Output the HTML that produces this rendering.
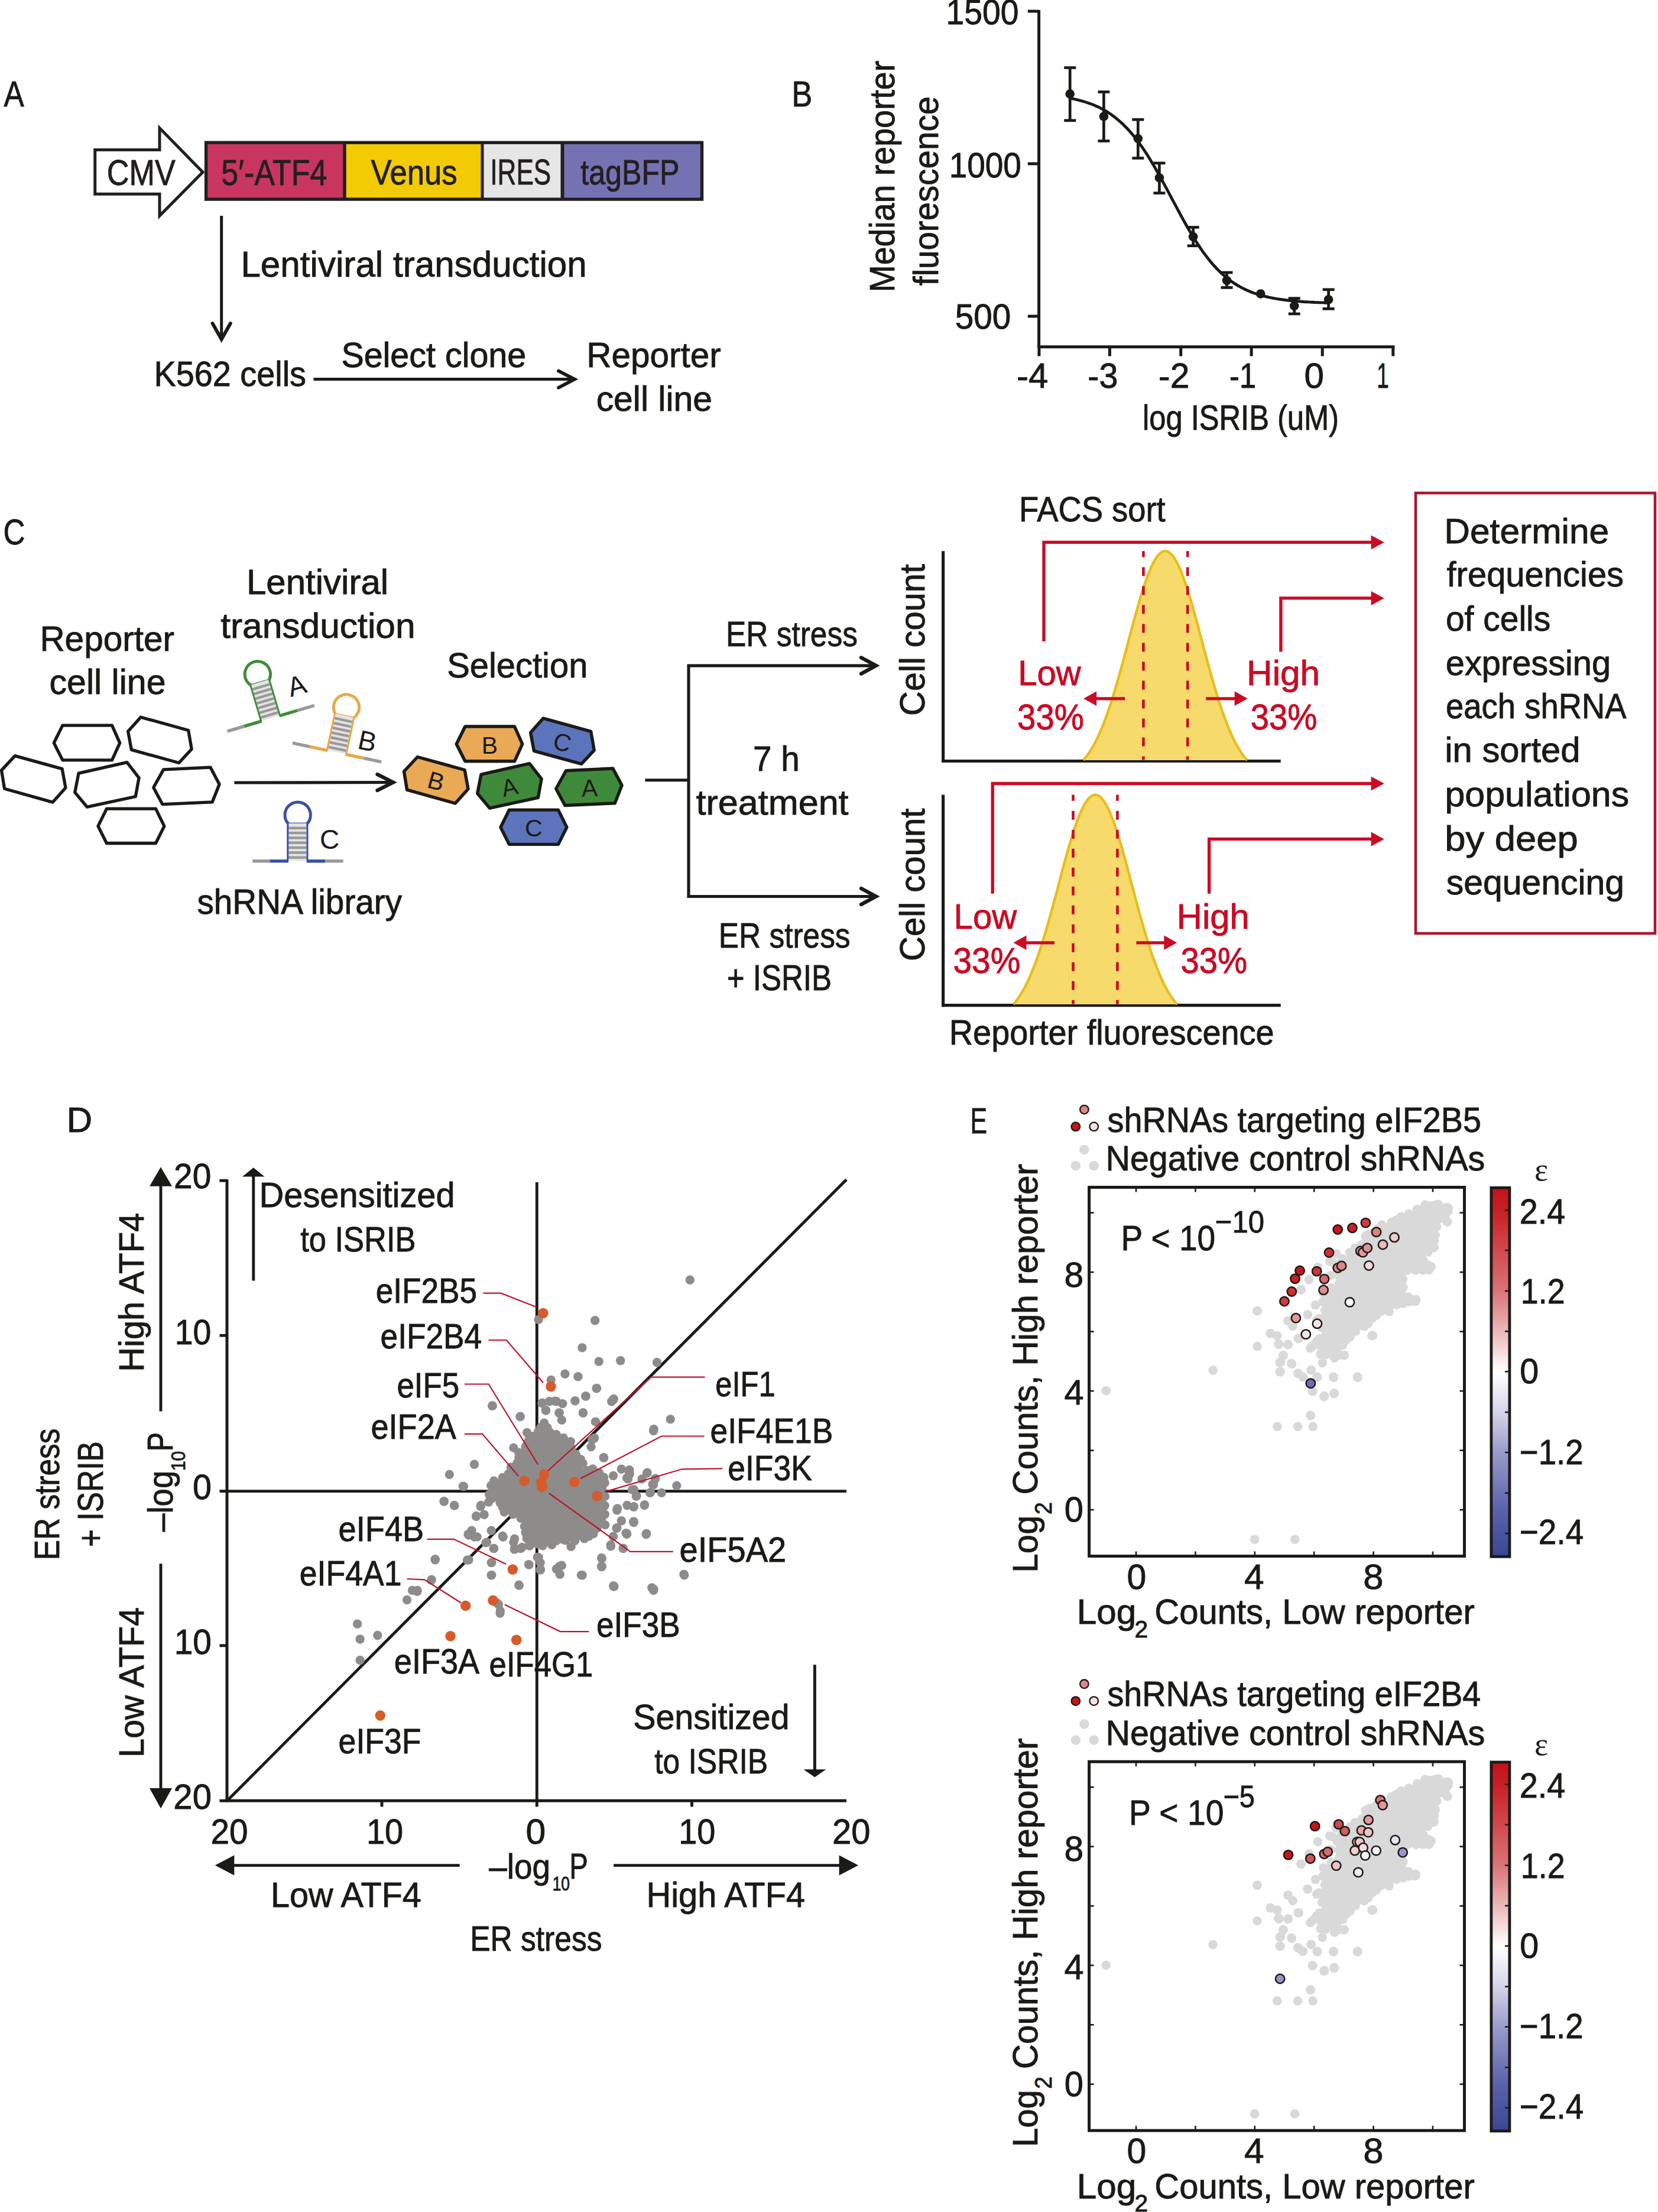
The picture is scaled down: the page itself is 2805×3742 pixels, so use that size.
<!DOCTYPE html>
<html><head><meta charset="utf-8"><style>
html,body{margin:0;padding:0;background:#fff;}
svg{display:block;}
text{font-family:"Liberation Sans", sans-serif;}
</style></head><body>
<svg width="2805" height="3742" viewBox="0 0 2805 3742">
<rect x="0" y="0" width="2805" height="3742" fill="#fff"/>
<text x="6.4" y="179.7" font-size="60.6" fill="#1b1a17" stroke="#1b1a17" stroke-width="0.9" textLength="34.2" lengthAdjust="spacingAndGlyphs" >A</text>
<polygon points="160.7,253.5 270.0,253.5 270.0,216.6 343.0,291.2 270.0,365.1 270.0,328.2 160.7,328.2" fill="#fff" stroke="#231f20" stroke-width="5" stroke-linejoin="miter" stroke-linecap="butt" />
<rect x="348.6" y="241.2" width="234.4" height="95.9" fill="#C8365F" stroke="none" stroke-width="0"/>
<rect x="583.0" y="241.2" width="233.0" height="95.9" fill="#F2CB05" stroke="none" stroke-width="0"/>
<rect x="816.0" y="241.2" width="135.0" height="95.9" fill="#E6E6E6" stroke="none" stroke-width="0"/>
<rect x="951.0" y="241.2" width="236.5" height="95.9" fill="#7572B3" stroke="none" stroke-width="0"/>
<rect x="348.6" y="241.2" width="838.9" height="95.9" fill="none" stroke="#231f20" stroke-width="5.4"/>
<line x1="583.0" y1="241.2" x2="583.0" y2="337.1" stroke="#231f20" stroke-width="5.5" stroke-linecap="butt" />
<line x1="816.0" y1="241.2" x2="816.0" y2="337.1" stroke="#231f20" stroke-width="5" stroke-linecap="butt" />
<line x1="951.5" y1="241.2" x2="951.5" y2="337.1" stroke="#231f20" stroke-width="6" stroke-linecap="butt" />
<text x="180.8" y="312.8" font-size="61" fill="#231f20" stroke="#231f20" stroke-width="0.9" textLength="116.0" lengthAdjust="spacingAndGlyphs" >CMV</text>
<text x="374.3" y="312.5" font-size="61" fill="#231f20" stroke="#231f20" stroke-width="0.9" textLength="179.2" lengthAdjust="spacingAndGlyphs" >5′-ATF4</text>
<text x="627.4" y="312.4" font-size="59.17" fill="#231f20" stroke="#231f20" stroke-width="0.9" textLength="146.2" lengthAdjust="spacingAndGlyphs" >Venus</text>
<text x="829.3" y="312.4" font-size="61" fill="#231f20" stroke="#231f20" stroke-width="0.9" textLength="102.9" lengthAdjust="spacingAndGlyphs" >IRES</text>
<text x="982.2" y="312.4" font-size="59.17" fill="#231f20" stroke="#231f20" stroke-width="0.9" textLength="167.4" lengthAdjust="spacingAndGlyphs" >tagBFP</text>
<line x1="374.7" y1="365.0" x2="374.7" y2="573.0" stroke="#1b1a17" stroke-width="5" stroke-linecap="butt" />
<polyline points="359.5,547.0 374.7,574.0 389.9,547.0" fill="none" stroke="#1b1a17" stroke-width="5.8" stroke-linejoin="miter" stroke-linecap="round" />
<text x="407.4" y="467.9" font-size="61.11" fill="#1b1a17" stroke="#1b1a17" stroke-width="0.9" textLength="585.4" lengthAdjust="spacingAndGlyphs" >Lentiviral transduction</text>
<text x="260.4" y="652.7" font-size="59.17" fill="#1b1a17" stroke="#1b1a17" stroke-width="0.9" textLength="257.6" lengthAdjust="spacingAndGlyphs" >K562 cells</text>
<text x="577.4" y="620.8" font-size="59.17" fill="#1b1a17" stroke="#1b1a17" stroke-width="0.9" textLength="312.8" lengthAdjust="spacingAndGlyphs" >Select clone</text>
<line x1="530.5" y1="641.6" x2="971.0" y2="641.6" stroke="#1b1a17" stroke-width="5" stroke-linecap="butt" />
<polyline points="945.0,627.5 972.0,641.6 945.0,655.7" fill="none" stroke="#1b1a17" stroke-width="5.8" stroke-linejoin="miter" stroke-linecap="round" />
<text x="992.3" y="620.5" font-size="59.17" fill="#1b1a17" stroke="#1b1a17" stroke-width="0.9" textLength="227.4" lengthAdjust="spacingAndGlyphs" >Reporter</text>
<text x="1008.7" y="695.2" font-size="59.17" fill="#1b1a17" stroke="#1b1a17" stroke-width="0.9" textLength="196.3" lengthAdjust="spacingAndGlyphs" >cell line</text>
<text x="1339.4" y="180.0" font-size="61" fill="#1b1a17" stroke="#1b1a17" stroke-width="0.9" textLength="34.8" lengthAdjust="spacingAndGlyphs" >B</text>
<line x1="1757.6" y1="17.0" x2="1757.6" y2="588.5" stroke="#1b1a17" stroke-width="5" stroke-linecap="butt" />
<line x1="1738.8" y1="19.0" x2="1757.6" y2="19.0" stroke="#1b1a17" stroke-width="5" stroke-linecap="butt" />
<line x1="1738.8" y1="277.0" x2="1757.6" y2="277.0" stroke="#1b1a17" stroke-width="5" stroke-linecap="butt" />
<line x1="1738.8" y1="535.0" x2="1757.6" y2="535.0" stroke="#1b1a17" stroke-width="5" stroke-linecap="butt" />
<text x="1600.4" y="40.7" font-size="60" fill="#1b1a17" stroke="#1b1a17" stroke-width="0.9" textLength="123.1" lengthAdjust="spacingAndGlyphs" >1500</text>
<text x="1605.8" y="300.2" font-size="60" fill="#1b1a17" stroke="#1b1a17" stroke-width="0.9" textLength="122.1" lengthAdjust="spacingAndGlyphs" >1000</text>
<text x="1615.8" y="556.3" font-size="60" fill="#1b1a17" stroke="#1b1a17" stroke-width="0.9" textLength="94.4" lengthAdjust="spacingAndGlyphs" >500</text>
<line x1="1755.5" y1="586.8" x2="2359.5" y2="586.8" stroke="#1b1a17" stroke-width="5" stroke-linecap="butt" />
<line x1="1757.9" y1="586.8" x2="1757.9" y2="602.5" stroke="#1b1a17" stroke-width="5" stroke-linecap="butt" />
<line x1="1877.4" y1="586.8" x2="1877.4" y2="602.5" stroke="#1b1a17" stroke-width="5" stroke-linecap="butt" />
<line x1="1997.7" y1="586.8" x2="1997.7" y2="602.5" stroke="#1b1a17" stroke-width="5" stroke-linecap="butt" />
<line x1="2117.1" y1="586.8" x2="2117.1" y2="602.5" stroke="#1b1a17" stroke-width="5" stroke-linecap="butt" />
<line x1="2237.2" y1="586.8" x2="2237.2" y2="602.5" stroke="#1b1a17" stroke-width="5" stroke-linecap="butt" />
<line x1="2356.8" y1="586.8" x2="2356.8" y2="602.5" stroke="#1b1a17" stroke-width="5" stroke-linecap="butt" />
<text x="1720.1" y="656.4" font-size="60" fill="#1b1a17" stroke="#1b1a17" stroke-width="0.9" textLength="53.3" lengthAdjust="spacingAndGlyphs" >-4</text>
<text x="1840.3" y="656.4" font-size="60" fill="#1b1a17" stroke="#1b1a17" stroke-width="0.9" textLength="51.1" lengthAdjust="spacingAndGlyphs" >-3</text>
<text x="1960.1" y="656.4" font-size="60" fill="#1b1a17" stroke="#1b1a17" stroke-width="0.9" textLength="52.3" lengthAdjust="spacingAndGlyphs" >-2</text>
<text x="2080.1" y="656.4" font-size="60" fill="#1b1a17" stroke="#1b1a17" stroke-width="0.9" textLength="44.9" lengthAdjust="spacingAndGlyphs" >-1</text>
<text x="2206.6" y="656.4" font-size="60" fill="#1b1a17" stroke="#1b1a17" stroke-width="0.9" textLength="33.4" lengthAdjust="spacingAndGlyphs" >0</text>
<text x="2329.2" y="656.4" font-size="60" fill="#1b1a17" stroke="#1b1a17" stroke-width="0.9" textLength="20.5" lengthAdjust="spacingAndGlyphs" >1</text>
<text x="1933.0" y="726.5" font-size="59.17" fill="#1b1a17" stroke="#1b1a17" stroke-width="0.9" textLength="332.1" lengthAdjust="spacingAndGlyphs" >log ISRIB (uM)</text>
<text x="-494.6" y="1512.8" font-size="60.14" fill="#1b1a17" stroke="#1b1a17" stroke-width="0.9" textLength="391.8" lengthAdjust="spacingAndGlyphs" transform="rotate(-90)" >Median reporter</text>
<text x="-483.3" y="1586.8" font-size="60.14" fill="#1b1a17" stroke="#1b1a17" stroke-width="0.9" textLength="320.4" lengthAdjust="spacingAndGlyphs" transform="rotate(-90)" >fluorescence</text>
<polyline points="1810.0,166.1 1813.7,166.8 1817.4,167.6 1821.1,168.4 1824.8,169.3 1828.5,170.3 1832.2,171.4 1835.9,172.5 1839.6,173.7 1843.3,175.0 1847.0,176.3 1850.7,177.8 1854.4,179.4 1858.1,181.1 1861.8,182.9 1865.5,184.9 1869.2,186.9 1872.9,189.2 1876.6,191.5 1880.3,194.0 1883.9,196.7 1887.6,199.5 1891.3,202.6 1895.0,205.8 1898.7,209.1 1902.4,212.7 1906.1,216.5 1909.8,220.5 1913.5,224.7 1917.2,229.0 1920.9,233.6 1924.6,238.5 1928.3,243.5 1932.0,248.7 1935.7,254.1 1939.4,259.7 1943.1,265.5 1946.8,271.5 1950.5,277.7 1954.2,284.0 1957.9,290.5 1961.6,297.1 1965.3,303.8 1969.0,310.6 1972.7,317.4 1976.4,324.4 1980.1,331.3 1983.8,338.3 1987.5,345.2 1991.2,352.2 1994.9,359.0 1998.6,365.9 2002.3,372.6 2006.0,379.2 2009.7,385.7 2013.4,392.0 2017.1,398.2 2020.8,404.2 2024.5,410.0 2028.2,415.7 2031.8,421.1 2035.5,426.4 2039.2,431.4 2042.9,436.3 2046.6,440.9 2050.3,445.3 2054.0,449.5 2057.7,453.5 2061.4,457.3 2065.1,460.9 2068.8,464.4 2072.5,467.6 2076.2,470.6 2079.9,473.5 2083.6,476.2 2087.3,478.7 2091.0,481.1 2094.7,483.4 2098.4,485.4 2102.1,487.4 2105.8,489.2 2109.5,491.0 2113.2,492.6 2116.9,494.1 2120.6,495.5 2124.3,496.8 2128.0,498.0 2131.7,499.1 2135.4,500.1 2139.1,501.1 2142.8,502.0 2146.5,502.9 2150.2,503.7 2153.9,504.4 2157.6,505.1 2161.3,505.7 2165.0,506.3 2168.7,506.8 2172.4,507.3 2176.1,507.8 2179.7,508.2 2183.4,508.6 2187.1,509.0 2190.8,509.3 2194.5,509.6 2198.2,509.9 2201.9,510.2 2205.6,510.5 2209.3,510.7 2213.0,510.9 2216.7,511.1 2220.4,511.3 2224.1,511.5 2227.8,511.6 2231.5,511.8 2235.2,511.9 2238.9,512.0 2242.6,512.2 2246.3,512.3 2250.0,512.4" fill="none" stroke="#1b1a17" stroke-width="4.9"/>
<line x1="1810.2" y1="114.5" x2="1810.2" y2="203.8" stroke="#1b1a17" stroke-width="4.7" stroke-linecap="butt" />
<line x1="1800.2" y1="114.5" x2="1820.2" y2="114.5" stroke="#1b1a17" stroke-width="4.7" stroke-linecap="butt" />
<line x1="1800.2" y1="203.8" x2="1820.2" y2="203.8" stroke="#1b1a17" stroke-width="4.7" stroke-linecap="butt" />
<circle cx="1810.2" cy="158.9" r="7.8" fill="#1b1a17" stroke="none" stroke-width="0"/>
<line x1="1867.4" y1="155.5" x2="1867.4" y2="238.5" stroke="#1b1a17" stroke-width="4.7" stroke-linecap="butt" />
<line x1="1857.4" y1="155.5" x2="1877.4" y2="155.5" stroke="#1b1a17" stroke-width="4.7" stroke-linecap="butt" />
<line x1="1857.4" y1="238.5" x2="1877.4" y2="238.5" stroke="#1b1a17" stroke-width="4.7" stroke-linecap="butt" />
<circle cx="1867.4" cy="197.0" r="7.8" fill="#1b1a17" stroke="none" stroke-width="0"/>
<line x1="1925.3" y1="202.3" x2="1925.3" y2="267.5" stroke="#1b1a17" stroke-width="4.7" stroke-linecap="butt" />
<line x1="1915.3" y1="202.3" x2="1935.3" y2="202.3" stroke="#1b1a17" stroke-width="4.7" stroke-linecap="butt" />
<line x1="1915.3" y1="267.5" x2="1935.3" y2="267.5" stroke="#1b1a17" stroke-width="4.7" stroke-linecap="butt" />
<circle cx="1925.3" cy="234.4" r="7.8" fill="#1b1a17" stroke="none" stroke-width="0"/>
<line x1="1961.4" y1="275.9" x2="1961.4" y2="326.6" stroke="#1b1a17" stroke-width="4.7" stroke-linecap="butt" />
<line x1="1951.4" y1="275.9" x2="1971.4" y2="275.9" stroke="#1b1a17" stroke-width="4.7" stroke-linecap="butt" />
<line x1="1951.4" y1="326.6" x2="1971.4" y2="326.6" stroke="#1b1a17" stroke-width="4.7" stroke-linecap="butt" />
<circle cx="1961.4" cy="300.7" r="7.8" fill="#1b1a17" stroke="none" stroke-width="0"/>
<line x1="2018.6" y1="384.5" x2="2018.6" y2="415.8" stroke="#1b1a17" stroke-width="4.7" stroke-linecap="butt" />
<line x1="2008.6" y1="384.5" x2="2028.6" y2="384.5" stroke="#1b1a17" stroke-width="4.7" stroke-linecap="butt" />
<line x1="2008.6" y1="415.8" x2="2028.6" y2="415.8" stroke="#1b1a17" stroke-width="4.7" stroke-linecap="butt" />
<circle cx="2018.6" cy="400.4" r="7.8" fill="#1b1a17" stroke="none" stroke-width="0"/>
<line x1="2075.5" y1="461.0" x2="2075.5" y2="486.5" stroke="#1b1a17" stroke-width="4.7" stroke-linecap="butt" />
<line x1="2065.5" y1="461.0" x2="2085.5" y2="461.0" stroke="#1b1a17" stroke-width="4.7" stroke-linecap="butt" />
<line x1="2065.5" y1="486.5" x2="2085.5" y2="486.5" stroke="#1b1a17" stroke-width="4.7" stroke-linecap="butt" />
<circle cx="2075.5" cy="474.5" r="7.8" fill="#1b1a17" stroke="none" stroke-width="0"/>
<circle cx="2132.7" cy="497.1" r="7.8" fill="#1b1a17" stroke="none" stroke-width="0"/>
<line x1="2189.7" y1="504.7" x2="2189.7" y2="530.9" stroke="#1b1a17" stroke-width="4.7" stroke-linecap="butt" />
<line x1="2179.7" y1="504.7" x2="2199.7" y2="504.7" stroke="#1b1a17" stroke-width="4.7" stroke-linecap="butt" />
<line x1="2179.7" y1="530.9" x2="2199.7" y2="530.9" stroke="#1b1a17" stroke-width="4.7" stroke-linecap="butt" />
<circle cx="2189.7" cy="517.4" r="7.8" fill="#1b1a17" stroke="none" stroke-width="0"/>
<line x1="2247.6" y1="489.9" x2="2247.6" y2="522.4" stroke="#1b1a17" stroke-width="4.7" stroke-linecap="butt" />
<line x1="2237.6" y1="489.9" x2="2257.6" y2="489.9" stroke="#1b1a17" stroke-width="4.7" stroke-linecap="butt" />
<line x1="2237.6" y1="522.4" x2="2257.6" y2="522.4" stroke="#1b1a17" stroke-width="4.7" stroke-linecap="butt" />
<circle cx="2247.6" cy="506.8" r="7.8" fill="#1b1a17" stroke="none" stroke-width="0"/>
<text x="5.5" y="920.5" font-size="61" fill="#1b1a17" stroke="#1b1a17" stroke-width="0.9" textLength="36.9" lengthAdjust="spacingAndGlyphs" >C</text>
<text x="67.4" y="1100.9" font-size="59.17" fill="#1b1a17" stroke="#1b1a17" stroke-width="0.9" textLength="227.5" lengthAdjust="spacingAndGlyphs" >Reporter</text>
<text x="83.6" y="1174.4" font-size="59.17" fill="#1b1a17" stroke="#1b1a17" stroke-width="0.9" textLength="196.9" lengthAdjust="spacingAndGlyphs" >cell line</text>
<polygon points="105.9,1227.1 189.5,1227.1 202.7,1256.8 189.5,1285.9 105.9,1285.9 91.2,1256.8" fill="none" stroke="#1b1a17" stroke-width="5.3" stroke-linejoin="round" stroke-linecap="butt" />
<polygon points="238.1,1213.2 318.7,1235.5 324.2,1267.2 302.7,1290.5 222.4,1268.4 216.6,1237.3" fill="none" stroke="#1b1a17" stroke-width="5.3" stroke-linejoin="round" stroke-linecap="butt" />
<polygon points="25.3,1278.6 105.1,1300.6 111.0,1332.8 89.2,1357.1 7.6,1334.3 2.5,1303.1" fill="none" stroke="#1b1a17" stroke-width="5.3" stroke-linejoin="round" stroke-linecap="butt" />
<polygon points="133.0,1308.2 214.8,1289.7 235.1,1315.8 229.3,1347.5 147.4,1365.2 126.7,1340.4" fill="none" stroke="#1b1a17" stroke-width="5.3" stroke-linejoin="round" stroke-linecap="butt" />
<polygon points="276.6,1301.9 355.9,1298.1 371.1,1326.7 359.2,1356.8 274.8,1360.6 259.7,1332.3" fill="none" stroke="#1b1a17" stroke-width="5.3" stroke-linejoin="round" stroke-linecap="butt" />
<polygon points="180.4,1368.2 263.5,1368.2 277.9,1397.6 263.5,1426.5 180.4,1426.5 165.9,1397.6" fill="none" stroke="#1b1a17" stroke-width="5.3" stroke-linejoin="round" stroke-linecap="butt" />
<line x1="396.4" y1="1324.0" x2="664.0" y2="1323.5" stroke="#1b1a17" stroke-width="5.2" stroke-linecap="butt" />
<polyline points="638.5,1310.0 665.0,1323.5 638.5,1337.0" fill="none" stroke="#1b1a17" stroke-width="6.3" stroke-linejoin="miter" stroke-linecap="round" />
<text x="417.0" y="1005.1" font-size="59.17" fill="#1b1a17" stroke="#1b1a17" stroke-width="0.9" textLength="240.1" lengthAdjust="spacingAndGlyphs" >Lentiviral</text>
<text x="373.2" y="1079.0" font-size="59.17" fill="#1b1a17" stroke="#1b1a17" stroke-width="0.9" textLength="329.4" lengthAdjust="spacingAndGlyphs" >transduction</text>
<text x="333.4" y="1546.3" font-size="59.17" fill="#1b1a17" stroke="#1b1a17" stroke-width="0.9" textLength="346.7" lengthAdjust="spacingAndGlyphs" >shRNA library</text>
<g transform="translate(457.7,1215.4) rotate(-16.5)"><circle cx="0.3" cy="-78" r="21.7" fill="#fff" stroke="#3F8C38" stroke-width="5"/><rect x="-15.2" y="-64.5" width="30.4" height="64" fill="#E4E4E4"/><rect x="-15.2" y="-58.1" width="30.4" height="4.4" fill="#9A9898"/><rect x="-15.2" y="-49.8" width="30.4" height="4.4" fill="#9A9898"/><rect x="-15.2" y="-41.5" width="30.4" height="4.4" fill="#9A9898"/><rect x="-15.2" y="-33.2" width="30.4" height="4.4" fill="#9A9898"/><rect x="-15.2" y="-24.9" width="30.4" height="4.4" fill="#9A9898"/><rect x="-15.2" y="-16.6" width="30.4" height="4.4" fill="#9A9898"/><rect x="-15.2" y="-8.3" width="30.4" height="4.4" fill="#9A9898"/><line x1="-16.6" y1="-64.6" x2="-16.6" y2="0" stroke="#3F8C38" stroke-width="3"/><line x1="16.6" y1="-64.6" x2="16.6" y2="0" stroke="#3F8C38" stroke-width="3"/><line x1="-15.2" y1="-64.5" x2="15.2" y2="-64.5" stroke="#3F8C38" stroke-width="1.2"/><line x1="-76.3" y1="0" x2="-46.4" y2="0" stroke="#9A9898" stroke-width="5.4"/><line x1="-46.4" y1="0" x2="-15.5" y2="0" stroke="#3F8C38" stroke-width="5.4"/><line x1="15.5" y1="0" x2="47.1" y2="0" stroke="#3F8C38" stroke-width="5.4"/><line x1="47.1" y1="0" x2="77.2" y2="0" stroke="#9A9898" stroke-width="5.4"/></g>
<g transform="translate(569.5,1272.8) rotate(12)"><circle cx="0.3" cy="-78" r="21.7" fill="#fff" stroke="#E8A84C" stroke-width="5"/><rect x="-15.2" y="-64.5" width="30.4" height="64" fill="#E4E4E4"/><rect x="-15.2" y="-58.1" width="30.4" height="4.4" fill="#9A9898"/><rect x="-15.2" y="-49.8" width="30.4" height="4.4" fill="#9A9898"/><rect x="-15.2" y="-41.5" width="30.4" height="4.4" fill="#9A9898"/><rect x="-15.2" y="-33.2" width="30.4" height="4.4" fill="#9A9898"/><rect x="-15.2" y="-24.9" width="30.4" height="4.4" fill="#9A9898"/><rect x="-15.2" y="-16.6" width="30.4" height="4.4" fill="#9A9898"/><rect x="-15.2" y="-8.3" width="30.4" height="4.4" fill="#9A9898"/><line x1="-16.6" y1="-64.6" x2="-16.6" y2="0" stroke="#E8A84C" stroke-width="3"/><line x1="16.6" y1="-64.6" x2="16.6" y2="0" stroke="#E8A84C" stroke-width="3"/><line x1="-15.2" y1="-64.5" x2="15.2" y2="-64.5" stroke="#E8A84C" stroke-width="1.2"/><line x1="-76.3" y1="0" x2="-46.4" y2="0" stroke="#9A9898" stroke-width="5.4"/><line x1="-46.4" y1="0" x2="-15.5" y2="0" stroke="#E8A84C" stroke-width="5.4"/><line x1="15.5" y1="0" x2="47.1" y2="0" stroke="#E8A84C" stroke-width="5.4"/><line x1="47.1" y1="0" x2="77.2" y2="0" stroke="#9A9898" stroke-width="5.4"/></g>
<g transform="translate(503.4,1456.7) rotate(0)"><circle cx="0.3" cy="-78" r="21.7" fill="#fff" stroke="#3B50A2" stroke-width="5"/><rect x="-15.2" y="-64.5" width="30.4" height="64" fill="#E4E4E4"/><rect x="-15.2" y="-58.1" width="30.4" height="4.4" fill="#9A9898"/><rect x="-15.2" y="-49.8" width="30.4" height="4.4" fill="#9A9898"/><rect x="-15.2" y="-41.5" width="30.4" height="4.4" fill="#9A9898"/><rect x="-15.2" y="-33.2" width="30.4" height="4.4" fill="#9A9898"/><rect x="-15.2" y="-24.9" width="30.4" height="4.4" fill="#9A9898"/><rect x="-15.2" y="-16.6" width="30.4" height="4.4" fill="#9A9898"/><rect x="-15.2" y="-8.3" width="30.4" height="4.4" fill="#9A9898"/><line x1="-16.6" y1="-64.6" x2="-16.6" y2="0" stroke="#3B50A2" stroke-width="3"/><line x1="16.6" y1="-64.6" x2="16.6" y2="0" stroke="#3B50A2" stroke-width="3"/><line x1="-15.2" y1="-64.5" x2="15.2" y2="-64.5" stroke="#3B50A2" stroke-width="1.2"/><line x1="-76.3" y1="0" x2="-46.4" y2="0" stroke="#9A9898" stroke-width="5.4"/><line x1="-46.4" y1="0" x2="-15.5" y2="0" stroke="#3B50A2" stroke-width="5.4"/><line x1="15.5" y1="0" x2="47.1" y2="0" stroke="#3B50A2" stroke-width="5.4"/><line x1="47.1" y1="0" x2="77.2" y2="0" stroke="#9A9898" stroke-width="5.4"/></g>
<g transform="translate(502.2,1159.8) rotate(-16)"><text x="0" y="15.8" font-size="46" text-anchor="middle" fill="#1b1a17">A</text></g>
<g transform="translate(621.6,1253.7) rotate(12)"><text x="0" y="15.8" font-size="46" text-anchor="middle" fill="#1b1a17">B</text></g>
<g transform="translate(557.5,1420.0) rotate(0)"><text x="0" y="15.8" font-size="46" text-anchor="middle" fill="#1b1a17">C</text></g>
<text x="756.2" y="1146.4" font-size="59.17" fill="#1b1a17" stroke="#1b1a17" stroke-width="0.9" textLength="238.2" lengthAdjust="spacingAndGlyphs" >Selection</text>
<polygon points="786.9,1229.0 870.5,1229.0 883.7,1258.7 870.5,1287.8 786.9,1287.8 772.2,1258.7" fill="#E9A955" stroke="#1b1a17" stroke-width="5.4" stroke-linejoin="round" stroke-linecap="butt" />
<g transform="translate(828.4,1260.5) rotate(0)"><text x="0" y="14.1" font-size="41" text-anchor="middle" fill="#1b1a17">B</text></g>
<polygon points="919.1,1215.1 999.7,1237.4 1005.2,1269.1 983.7,1292.4 903.4,1270.3 897.6,1239.2" fill="#5B74BC" stroke="#1b1a17" stroke-width="5.4" stroke-linejoin="round" stroke-linecap="butt" />
<g transform="translate(951.4,1255.9) rotate(15.5)"><text x="0" y="14.1" font-size="41" text-anchor="middle" fill="#1b1a17">C</text></g>
<polygon points="706.3,1280.5 786.1,1302.5 792.0,1334.7 770.2,1359.0 688.6,1336.2 683.5,1305.0" fill="#E9A955" stroke="#1b1a17" stroke-width="5.4" stroke-linejoin="round" stroke-linecap="butt" />
<g transform="translate(737.8,1321.6) rotate(15.4)"><text x="0" y="14.1" font-size="41" text-anchor="middle" fill="#1b1a17">B</text></g>
<polygon points="814.0,1310.1 895.8,1291.6 916.1,1317.7 910.3,1349.4 828.4,1367.1 807.7,1342.3" fill="#3F8A3A" stroke="#1b1a17" stroke-width="5.4" stroke-linejoin="round" stroke-linecap="butt" />
<g transform="translate(862.1,1331.7) rotate(-12.7)"><text x="0" y="14.1" font-size="41" text-anchor="middle" fill="#1b1a17">A</text></g>
<polygon points="957.6,1303.8 1036.9,1300.0 1052.1,1328.6 1040.2,1358.7 955.8,1362.5 940.7,1334.2" fill="#3F8A3A" stroke="#1b1a17" stroke-width="5.4" stroke-linejoin="round" stroke-linecap="butt" />
<g transform="translate(997.2,1333.3) rotate(-2.7)"><text x="0" y="14.1" font-size="41" text-anchor="middle" fill="#1b1a17">A</text></g>
<polygon points="861.4,1370.1 944.5,1370.1 958.9,1399.5 944.5,1428.4 861.4,1428.4 846.9,1399.5" fill="#5B74BC" stroke="#1b1a17" stroke-width="5.4" stroke-linejoin="round" stroke-linecap="butt" />
<g transform="translate(902.9,1401.3) rotate(0)"><text x="0" y="14.1" font-size="41" text-anchor="middle" fill="#1b1a17">C</text></g>
<line x1="1091.4" y1="1319.8" x2="1165.0" y2="1319.8" stroke="#1b1a17" stroke-width="5.1" stroke-linecap="butt" />
<line x1="1165.0" y1="1123.9" x2="1165.0" y2="1518.7" stroke="#1b1a17" stroke-width="5.1" stroke-linecap="butt" />
<line x1="1162.8" y1="1126.1" x2="1481.0" y2="1126.1" stroke="#1b1a17" stroke-width="5.1" stroke-linecap="butt" />
<line x1="1162.8" y1="1516.5" x2="1481.0" y2="1516.5" stroke="#1b1a17" stroke-width="5.1" stroke-linecap="butt" />
<polyline points="1457.0,1112.5 1482.0,1126.1 1457.0,1139.7" fill="none" stroke="#1b1a17" stroke-width="6.3" stroke-linejoin="miter" stroke-linecap="round" />
<polyline points="1457.0,1503.0 1482.0,1516.5 1457.0,1530.0" fill="none" stroke="#1b1a17" stroke-width="6.3" stroke-linejoin="miter" stroke-linecap="round" />
<text x="1228.0" y="1093.2" font-size="59.17" fill="#1b1a17" stroke="#1b1a17" stroke-width="0.9" textLength="222.9" lengthAdjust="spacingAndGlyphs" >ER stress</text>
<text x="1273.9" y="1304.4" font-size="59.17" fill="#1b1a17" stroke="#1b1a17" stroke-width="0.9" textLength="78.8" lengthAdjust="spacingAndGlyphs" >7 h</text>
<text x="1177.5" y="1378.2" font-size="59.17" fill="#1b1a17" stroke="#1b1a17" stroke-width="0.9" textLength="258.1" lengthAdjust="spacingAndGlyphs" >treatment</text>
<text x="1215.7" y="1602.6" font-size="59.17" fill="#1b1a17" stroke="#1b1a17" stroke-width="0.9" textLength="222.9" lengthAdjust="spacingAndGlyphs" >ER stress</text>
<text x="1229.7" y="1674.9" font-size="61" fill="#1b1a17" stroke="#1b1a17" stroke-width="0.9" textLength="177.4" lengthAdjust="spacingAndGlyphs" >+ ISRIB</text>
<line x1="1595.6" y1="932.2" x2="1595.6" y2="1290.1" stroke="#1b1a17" stroke-width="5.2" stroke-linecap="butt" />
<line x1="1593.0" y1="1287.5" x2="2166.7" y2="1287.5" stroke="#1b1a17" stroke-width="5.2" stroke-linecap="butt" />
<path d="M1832.9,1286.0 L1836.4,1281.8 L1839.8,1277.2 L1843.3,1272.2 L1846.7,1266.7 L1850.2,1260.7 L1853.7,1254.2 L1857.1,1247.2 L1860.6,1239.6 L1864.0,1231.6 L1867.5,1223.0 L1871.0,1213.8 L1874.4,1204.1 L1877.9,1194.0 L1881.3,1183.3 L1884.8,1172.2 L1888.3,1160.6 L1891.7,1148.7 L1895.2,1136.4 L1898.6,1123.8 L1902.1,1111.0 L1905.6,1098.1 L1909.0,1085.0 L1912.5,1072.0 L1915.9,1059.0 L1919.4,1046.2 L1922.9,1033.7 L1926.3,1021.5 L1929.8,1009.7 L1933.2,998.4 L1936.7,987.8 L1940.2,977.9 L1943.6,968.8 L1947.1,960.5 L1950.5,953.2 L1954.0,946.9 L1957.5,941.7 L1960.9,937.6 L1964.4,934.6 L1967.8,932.8 L1971.3,932.2 L1974.8,932.8 L1978.2,934.6 L1981.7,937.6 L1985.1,941.7 L1988.6,946.9 L1992.1,953.2 L1995.5,960.5 L1999.0,968.8 L2002.4,977.9 L2005.9,987.8 L2009.4,998.4 L2012.8,1009.7 L2016.3,1021.5 L2019.7,1033.7 L2023.2,1046.2 L2026.7,1059.0 L2030.1,1072.0 L2033.6,1085.0 L2037.0,1098.1 L2040.5,1111.0 L2044.0,1123.8 L2047.4,1136.4 L2050.9,1148.7 L2054.3,1160.6 L2057.8,1172.2 L2061.3,1183.3 L2064.7,1194.0 L2068.2,1204.1 L2071.6,1213.8 L2075.1,1223.0 L2078.6,1231.6 L2082.0,1239.6 L2085.5,1247.2 L2088.9,1254.2 L2092.4,1260.7 L2095.9,1266.7 L2099.3,1272.2 L2102.8,1277.2 L2106.2,1281.8 L2109.7,1286.0 Z" fill="#F6DA6C" stroke="none"/>
<path d="M1832.9,1286.0 L1836.4,1281.8 L1839.8,1277.2 L1843.3,1272.2 L1846.7,1266.7 L1850.2,1260.7 L1853.7,1254.2 L1857.1,1247.2 L1860.6,1239.6 L1864.0,1231.6 L1867.5,1223.0 L1871.0,1213.8 L1874.4,1204.1 L1877.9,1194.0 L1881.3,1183.3 L1884.8,1172.2 L1888.3,1160.6 L1891.7,1148.7 L1895.2,1136.4 L1898.6,1123.8 L1902.1,1111.0 L1905.6,1098.1 L1909.0,1085.0 L1912.5,1072.0 L1915.9,1059.0 L1919.4,1046.2 L1922.9,1033.7 L1926.3,1021.5 L1929.8,1009.7 L1933.2,998.4 L1936.7,987.8 L1940.2,977.9 L1943.6,968.8 L1947.1,960.5 L1950.5,953.2 L1954.0,946.9 L1957.5,941.7 L1960.9,937.6 L1964.4,934.6 L1967.8,932.8 L1971.3,932.2 L1974.8,932.8 L1978.2,934.6 L1981.7,937.6 L1985.1,941.7 L1988.6,946.9 L1992.1,953.2 L1995.5,960.5 L1999.0,968.8 L2002.4,977.9 L2005.9,987.8 L2009.4,998.4 L2012.8,1009.7 L2016.3,1021.5 L2019.7,1033.7 L2023.2,1046.2 L2026.7,1059.0 L2030.1,1072.0 L2033.6,1085.0 L2037.0,1098.1 L2040.5,1111.0 L2044.0,1123.8 L2047.4,1136.4 L2050.9,1148.7 L2054.3,1160.6 L2057.8,1172.2 L2061.3,1183.3 L2064.7,1194.0 L2068.2,1204.1 L2071.6,1213.8 L2075.1,1223.0 L2078.6,1231.6 L2082.0,1239.6 L2085.5,1247.2 L2088.9,1254.2 L2092.4,1260.7 L2095.9,1266.7 L2099.3,1272.2 L2102.8,1277.2 L2106.2,1281.8 L2109.7,1286.0" fill="none" stroke="#E9BD1B" stroke-width="4.4" stroke-linejoin="round"/>
<line x1="1934.4" y1="932.2" x2="1934.4" y2="1285.5" stroke="#CA0B24" stroke-width="4.6" stroke-dasharray="15 17" stroke-dashoffset="4.7"/>
<line x1="2009.2" y1="932.2" x2="2009.2" y2="1285.5" stroke="#CA0B24" stroke-width="4.6" stroke-dasharray="15 17" stroke-dashoffset="4.7"/>
<line x1="1903.2" y1="1181.8" x2="1853.1" y2="1181.8" stroke="#CA0B24" stroke-width="5.2" stroke-linecap="butt" />
<polygon points="1833.1,1181.8 1855.1,1169.6 1855.1,1194.0" fill="#CA0B24" stroke="none" stroke-width="0" stroke-linejoin="miter" stroke-linecap="butt" />
<line x1="2040.3" y1="1181.8" x2="2090.7" y2="1181.8" stroke="#CA0B24" stroke-width="5.2" stroke-linecap="butt" />
<polygon points="2110.7,1181.8 2088.7,1169.6 2088.7,1194.0" fill="#CA0B24" stroke="none" stroke-width="0" stroke-linejoin="miter" stroke-linecap="butt" />
<polyline points="1766.0,1084.9 1766.0,917.4 2322.0,917.4" fill="none" stroke="#CA0B24" stroke-width="5.4" stroke-linejoin="miter" stroke-linecap="butt" />
<polygon points="2341.8,917.4 2319.6,905.4 2319.6,929.4" fill="#CA0B24" stroke="none" stroke-width="0" stroke-linejoin="miter" stroke-linecap="butt" />
<polyline points="2166.9,1102.4 2166.9,1011.9 2322.0,1011.9" fill="none" stroke="#CA0B24" stroke-width="5.4" stroke-linejoin="miter" stroke-linecap="butt" />
<polygon points="2341.8,1011.9 2319.6,999.9 2319.6,1023.9" fill="#CA0B24" stroke="none" stroke-width="0" stroke-linejoin="miter" stroke-linecap="butt" />
<line x1="1595.6" y1="1344.5" x2="1595.6" y2="1703.2" stroke="#1b1a17" stroke-width="5.2" stroke-linecap="butt" />
<line x1="1593.0" y1="1700.6" x2="2166.7" y2="1700.6" stroke="#1b1a17" stroke-width="5.2" stroke-linecap="butt" />
<path d="M1714.5,1699.1 L1718.0,1694.9 L1721.4,1690.3 L1724.9,1685.2 L1728.3,1679.7 L1731.8,1673.7 L1735.3,1667.2 L1738.7,1660.2 L1742.2,1652.6 L1745.6,1644.5 L1749.1,1635.9 L1752.6,1626.7 L1756.0,1617.1 L1759.5,1606.9 L1762.9,1596.2 L1766.4,1585.0 L1769.9,1573.4 L1773.3,1561.5 L1776.8,1549.2 L1780.2,1536.6 L1783.7,1523.7 L1787.2,1510.7 L1790.6,1497.7 L1794.1,1484.6 L1797.5,1471.6 L1801.0,1458.8 L1804.5,1446.2 L1807.9,1434.0 L1811.4,1422.2 L1814.8,1410.9 L1818.3,1400.2 L1821.8,1390.3 L1825.2,1381.2 L1828.7,1372.9 L1832.1,1365.6 L1835.6,1359.3 L1839.1,1354.0 L1842.5,1349.9 L1846.0,1346.9 L1849.4,1345.1 L1852.9,1344.5 L1856.4,1345.1 L1859.8,1346.9 L1863.3,1349.9 L1866.7,1354.0 L1870.2,1359.3 L1873.7,1365.6 L1877.1,1372.9 L1880.6,1381.2 L1884.0,1390.3 L1887.5,1400.2 L1891.0,1410.9 L1894.4,1422.2 L1897.9,1434.0 L1901.3,1446.2 L1904.8,1458.8 L1908.3,1471.6 L1911.7,1484.6 L1915.2,1497.7 L1918.6,1510.7 L1922.1,1523.7 L1925.6,1536.6 L1929.0,1549.2 L1932.5,1561.5 L1935.9,1573.4 L1939.4,1585.0 L1942.9,1596.2 L1946.3,1606.9 L1949.8,1617.1 L1953.2,1626.7 L1956.7,1635.9 L1960.2,1644.5 L1963.6,1652.6 L1967.1,1660.2 L1970.5,1667.2 L1974.0,1673.7 L1977.5,1679.7 L1980.9,1685.2 L1984.4,1690.3 L1987.8,1694.9 L1991.3,1699.1 Z" fill="#F6DA6C" stroke="none"/>
<path d="M1714.5,1699.1 L1718.0,1694.9 L1721.4,1690.3 L1724.9,1685.2 L1728.3,1679.7 L1731.8,1673.7 L1735.3,1667.2 L1738.7,1660.2 L1742.2,1652.6 L1745.6,1644.5 L1749.1,1635.9 L1752.6,1626.7 L1756.0,1617.1 L1759.5,1606.9 L1762.9,1596.2 L1766.4,1585.0 L1769.9,1573.4 L1773.3,1561.5 L1776.8,1549.2 L1780.2,1536.6 L1783.7,1523.7 L1787.2,1510.7 L1790.6,1497.7 L1794.1,1484.6 L1797.5,1471.6 L1801.0,1458.8 L1804.5,1446.2 L1807.9,1434.0 L1811.4,1422.2 L1814.8,1410.9 L1818.3,1400.2 L1821.8,1390.3 L1825.2,1381.2 L1828.7,1372.9 L1832.1,1365.6 L1835.6,1359.3 L1839.1,1354.0 L1842.5,1349.9 L1846.0,1346.9 L1849.4,1345.1 L1852.9,1344.5 L1856.4,1345.1 L1859.8,1346.9 L1863.3,1349.9 L1866.7,1354.0 L1870.2,1359.3 L1873.7,1365.6 L1877.1,1372.9 L1880.6,1381.2 L1884.0,1390.3 L1887.5,1400.2 L1891.0,1410.9 L1894.4,1422.2 L1897.9,1434.0 L1901.3,1446.2 L1904.8,1458.8 L1908.3,1471.6 L1911.7,1484.6 L1915.2,1497.7 L1918.6,1510.7 L1922.1,1523.7 L1925.6,1536.6 L1929.0,1549.2 L1932.5,1561.5 L1935.9,1573.4 L1939.4,1585.0 L1942.9,1596.2 L1946.3,1606.9 L1949.8,1617.1 L1953.2,1626.7 L1956.7,1635.9 L1960.2,1644.5 L1963.6,1652.6 L1967.1,1660.2 L1970.5,1667.2 L1974.0,1673.7 L1977.5,1679.7 L1980.9,1685.2 L1984.4,1690.3 L1987.8,1694.9 L1991.3,1699.1" fill="none" stroke="#E9BD1B" stroke-width="4.4" stroke-linejoin="round"/>
<line x1="1815.5" y1="1344.5" x2="1815.5" y2="1698.6" stroke="#CA0B24" stroke-width="4.6" stroke-dasharray="15 17" stroke-dashoffset="4.7"/>
<line x1="1890.4" y1="1344.5" x2="1890.4" y2="1698.6" stroke="#CA0B24" stroke-width="4.6" stroke-dasharray="15 17" stroke-dashoffset="4.7"/>
<line x1="1784.0" y1="1594.8" x2="1734.5" y2="1594.8" stroke="#CA0B24" stroke-width="5.2" stroke-linecap="butt" />
<polygon points="1714.5,1594.8 1736.5,1582.6 1736.5,1607.0" fill="#CA0B24" stroke="none" stroke-width="0" stroke-linejoin="miter" stroke-linecap="butt" />
<line x1="1922.4" y1="1594.8" x2="1971.3" y2="1594.8" stroke="#CA0B24" stroke-width="5.2" stroke-linecap="butt" />
<polygon points="1991.3,1594.8 1969.3,1582.6 1969.3,1607.0" fill="#CA0B24" stroke="none" stroke-width="0" stroke-linejoin="miter" stroke-linecap="butt" />
<polyline points="1679.2,1511.7 1679.2,1325.5 2322.0,1325.5" fill="none" stroke="#CA0B24" stroke-width="5.4" stroke-linejoin="miter" stroke-linecap="butt" />
<polygon points="2341.8,1325.5 2319.6,1313.5 2319.6,1337.5" fill="#CA0B24" stroke="none" stroke-width="0" stroke-linejoin="miter" stroke-linecap="butt" />
<polyline points="2045.6,1511.7 2045.6,1419.4 2322.0,1419.4" fill="none" stroke="#CA0B24" stroke-width="5.4" stroke-linejoin="miter" stroke-linecap="butt" />
<polygon points="2341.8,1419.4 2319.6,1407.4 2319.6,1431.4" fill="#CA0B24" stroke="none" stroke-width="0" stroke-linejoin="miter" stroke-linecap="butt" />
<text x="1724.1" y="881.6" font-size="59.17" fill="#1b1a17" stroke="#1b1a17" stroke-width="0.9" textLength="247.6" lengthAdjust="spacingAndGlyphs" >FACS sort</text>
<text x="1722.2" y="1159.3" font-size="59.17" fill="#CA0B24" stroke="#CA0B24" stroke-width="0.9" textLength="106.6" lengthAdjust="spacingAndGlyphs" >Low</text>
<text x="1721.1" y="1233.6" font-size="61" fill="#CA0B24" stroke="#CA0B24" stroke-width="0.9" textLength="112.8" lengthAdjust="spacingAndGlyphs" >33%</text>
<text x="2109.1" y="1159.3" font-size="59.17" fill="#CA0B24" stroke="#CA0B24" stroke-width="0.9" textLength="124.0" lengthAdjust="spacingAndGlyphs" >High</text>
<text x="2115.7" y="1233.6" font-size="61" fill="#CA0B24" stroke="#CA0B24" stroke-width="0.9" textLength="112.8" lengthAdjust="spacingAndGlyphs" >33%</text>
<text x="1613.6" y="1571.4" font-size="59.17" fill="#CA0B24" stroke="#CA0B24" stroke-width="0.9" textLength="106.7" lengthAdjust="spacingAndGlyphs" >Low</text>
<text x="1612.4" y="1645.8" font-size="61" fill="#CA0B24" stroke="#CA0B24" stroke-width="0.9" textLength="113.9" lengthAdjust="spacingAndGlyphs" >33%</text>
<text x="1990.8" y="1571.4" font-size="59.17" fill="#CA0B24" stroke="#CA0B24" stroke-width="0.9" textLength="122.8" lengthAdjust="spacingAndGlyphs" >High</text>
<text x="1997.4" y="1645.8" font-size="61" fill="#CA0B24" stroke="#CA0B24" stroke-width="0.9" textLength="112.8" lengthAdjust="spacingAndGlyphs" >33%</text>
<text x="-1211.0" y="1564.1" font-size="59.17" fill="#1b1a17" stroke="#1b1a17" stroke-width="0.9" textLength="256.9" lengthAdjust="spacingAndGlyphs" transform="rotate(-90)" >Cell count</text>
<text x="-1626.0" y="1564.1" font-size="59.17" fill="#1b1a17" stroke="#1b1a17" stroke-width="0.9" textLength="258.5" lengthAdjust="spacingAndGlyphs" transform="rotate(-90)" >Cell count</text>
<text x="1605.7" y="1766.8" font-size="59.17" fill="#1b1a17" stroke="#1b1a17" stroke-width="0.9" textLength="549.9" lengthAdjust="spacingAndGlyphs" >Reporter fluorescence</text>
<rect x="2395.0" y="834.0" width="405.0" height="745.0" fill="none" stroke="#A8182E" stroke-width="4.6"/>
<text x="2443.3" y="918.7" font-size="59.17" fill="#1b1a17" stroke="#1b1a17" stroke-width="0.9" textLength="278.9" lengthAdjust="spacingAndGlyphs" >Determine</text>
<text x="2447.5" y="991.7" font-size="59.17" fill="#1b1a17" stroke="#1b1a17" stroke-width="0.9" textLength="299.6" lengthAdjust="spacingAndGlyphs" >frequencies</text>
<text x="2445.9" y="1067.0" font-size="59.17" fill="#1b1a17" stroke="#1b1a17" stroke-width="0.9" textLength="177.4" lengthAdjust="spacingAndGlyphs" >of cells</text>
<text x="2445.8" y="1141.9" font-size="59.17" fill="#1b1a17" stroke="#1b1a17" stroke-width="0.9" textLength="279.3" lengthAdjust="spacingAndGlyphs" >expressing</text>
<text x="2446.0" y="1214.9" font-size="59.17" fill="#1b1a17" stroke="#1b1a17" stroke-width="0.9" textLength="305.6" lengthAdjust="spacingAndGlyphs" >each shRNA</text>
<text x="2444.3" y="1289.1" font-size="59.17" fill="#1b1a17" stroke="#1b1a17" stroke-width="0.9" textLength="229.3" lengthAdjust="spacingAndGlyphs" >in sorted</text>
<text x="2444.4" y="1364.3" font-size="59.17" fill="#1b1a17" stroke="#1b1a17" stroke-width="0.9" textLength="311.8" lengthAdjust="spacingAndGlyphs" >populations</text>
<text x="2444.2" y="1438.5" font-size="59.17" fill="#1b1a17" stroke="#1b1a17" stroke-width="0.9" textLength="225.7" lengthAdjust="spacingAndGlyphs" >by  deep</text>
<text x="2446.7" y="1513.4" font-size="59.17" fill="#1b1a17" stroke="#1b1a17" stroke-width="0.9" textLength="301.3" lengthAdjust="spacingAndGlyphs" >sequencing</text>
<text x="112.7" y="1914.8" font-size="59" fill="#1b1a17" stroke="#1b1a17" stroke-width="0.9" textLength="43.4" lengthAdjust="spacingAndGlyphs" >D</text>
<line x1="384.0" y1="1995.3" x2="384.0" y2="3048.2" stroke="#1b1a17" stroke-width="4.9" stroke-linecap="butt" />
<line x1="371.5" y1="1997.2" x2="384.0" y2="1997.2" stroke="#1b1a17" stroke-width="4.9" stroke-linecap="butt" />
<line x1="371.5" y1="2259.2" x2="384.0" y2="2259.2" stroke="#1b1a17" stroke-width="4.9" stroke-linecap="butt" />
<line x1="371.5" y1="2522.6" x2="384.0" y2="2522.6" stroke="#1b1a17" stroke-width="4.9" stroke-linecap="butt" />
<line x1="371.5" y1="2783.8" x2="384.0" y2="2783.8" stroke="#1b1a17" stroke-width="4.9" stroke-linecap="butt" />
<line x1="371.5" y1="3046.3" x2="384.0" y2="3046.3" stroke="#1b1a17" stroke-width="4.9" stroke-linecap="butt" />
<line x1="382.0" y1="3046.3" x2="1432.0" y2="3046.3" stroke="#1b1a17" stroke-width="4.9" stroke-linecap="butt" />
<line x1="646.0" y1="3046.3" x2="646.0" y2="3056.5" stroke="#1b1a17" stroke-width="4.9" stroke-linecap="butt" />
<line x1="908.3" y1="3046.3" x2="908.3" y2="3056.5" stroke="#1b1a17" stroke-width="4.9" stroke-linecap="butt" />
<line x1="1170.5" y1="3046.3" x2="1170.5" y2="3056.5" stroke="#1b1a17" stroke-width="4.9" stroke-linecap="butt" />
<text x="294.1" y="2010.4" font-size="59" fill="#1b1a17" stroke="#1b1a17" stroke-width="0.9" textLength="63.3" lengthAdjust="spacingAndGlyphs" >20</text>
<text x="295.8" y="2273.7" font-size="59" fill="#1b1a17" stroke="#1b1a17" stroke-width="0.9" textLength="61.6" lengthAdjust="spacingAndGlyphs" >10</text>
<text x="326.0" y="2536.4" font-size="59" fill="#1b1a17" stroke="#1b1a17" stroke-width="0.9" textLength="32.0" lengthAdjust="spacingAndGlyphs" >0</text>
<text x="294.7" y="2798.3" font-size="59" fill="#1b1a17" stroke="#1b1a17" stroke-width="0.9" textLength="63.3" lengthAdjust="spacingAndGlyphs" >10</text>
<text x="293.3" y="3060.4" font-size="59" fill="#1b1a17" stroke="#1b1a17" stroke-width="0.9" textLength="64.7" lengthAdjust="spacingAndGlyphs" >20</text>
<text x="356.5" y="3119.4" font-size="59" fill="#1b1a17" stroke="#1b1a17" stroke-width="0.9" textLength="63.0" lengthAdjust="spacingAndGlyphs" >20</text>
<text x="619.9" y="3119.4" font-size="59" fill="#1b1a17" stroke="#1b1a17" stroke-width="0.9" textLength="62.2" lengthAdjust="spacingAndGlyphs" >10</text>
<text x="889.6" y="3119.4" font-size="59" fill="#1b1a17" stroke="#1b1a17" stroke-width="0.9" textLength="33.7" lengthAdjust="spacingAndGlyphs" >0</text>
<text x="1148.3" y="3119.4" font-size="59" fill="#1b1a17" stroke="#1b1a17" stroke-width="0.9" textLength="62.1" lengthAdjust="spacingAndGlyphs" >10</text>
<text x="1408.1" y="3119.4" font-size="59" fill="#1b1a17" stroke="#1b1a17" stroke-width="0.9" textLength="64.5" lengthAdjust="spacingAndGlyphs" >20</text>
<line x1="272.0" y1="2005.0" x2="272.0" y2="2387.6" stroke="#1b1a17" stroke-width="4.9" stroke-linecap="butt" />
<polygon points="272.0,1974.2 253.0,2006.8 291.0,2006.8" fill="#1b1a17" stroke="none" stroke-width="0" stroke-linejoin="miter" stroke-linecap="butt" />
<line x1="272.0" y1="2645.3" x2="272.0" y2="3027.0" stroke="#1b1a17" stroke-width="4.9" stroke-linecap="butt" />
<polygon points="272.0,3059.3 253.0,3025.0 291.0,3025.0" fill="#1b1a17" stroke="none" stroke-width="0" stroke-linejoin="miter" stroke-linecap="butt" />
<text x="-2320.7" y="242.8" font-size="59.17" fill="#1b1a17" stroke="#1b1a17" stroke-width="0.9" textLength="268.8" lengthAdjust="spacingAndGlyphs" transform="rotate(-90)" >High ATF4</text>
<text x="-2973.0" y="243.3" font-size="59.17" fill="#1b1a17" stroke="#1b1a17" stroke-width="0.9" textLength="253.8" lengthAdjust="spacingAndGlyphs" transform="rotate(-90)" >Low ATF4</text>
<text x="-2639.2" y="99.7" font-size="59.17" fill="#1b1a17" stroke="#1b1a17" stroke-width="0.9" textLength="222.5" lengthAdjust="spacingAndGlyphs" transform="rotate(-90)" >ER stress</text>
<text x="-2616.9" y="173.5" font-size="61" fill="#1b1a17" stroke="#1b1a17" stroke-width="0.9" textLength="178.7" lengthAdjust="spacingAndGlyphs" transform="rotate(-90)" >+ ISRIB</text>
<text x="-2590.9" y="291.7" font-size="59.17" fill="#1b1a17" stroke="#1b1a17" stroke-width="0.9" textLength="103.2" lengthAdjust="spacingAndGlyphs" transform="rotate(-90)" >–log</text>
<text x="-2488.3" y="312.6" font-size="34" fill="#1b1a17" stroke="#1b1a17" stroke-width="0.9" textLength="33.5" lengthAdjust="spacingAndGlyphs" transform="rotate(-90)" >10</text>
<text x="-2455.3" y="291.7" font-size="61" fill="#1b1a17" stroke="#1b1a17" stroke-width="0.9" textLength="32.2" lengthAdjust="spacingAndGlyphs" transform="rotate(-90)" >P</text>
<line x1="777.7" y1="3155.6" x2="394.0" y2="3155.6" stroke="#1b1a17" stroke-width="4.9" stroke-linecap="butt" />
<polygon points="363.7,3155.6 396.3,3138.6 396.3,3172.6" fill="#1b1a17" stroke="none" stroke-width="0" stroke-linejoin="miter" stroke-linecap="butt" />
<line x1="1038.2" y1="3155.6" x2="1420.0" y2="3155.6" stroke="#1b1a17" stroke-width="4.9" stroke-linecap="butt" />
<polygon points="1452.2,3155.6 1419.6,3138.6 1419.6,3172.6" fill="#1b1a17" stroke="none" stroke-width="0" stroke-linejoin="miter" stroke-linecap="butt" />
<text x="827.2" y="3177.7" font-size="59.17" fill="#1b1a17" stroke="#1b1a17" stroke-width="0.9" textLength="103.7" lengthAdjust="spacingAndGlyphs" >–log</text>
<text x="934.7" y="3198.3" font-size="33" fill="#1b1a17" stroke="#1b1a17" stroke-width="0.9" textLength="29.3" lengthAdjust="spacingAndGlyphs" >10</text>
<text x="963.3" y="3177.7" font-size="61" fill="#1b1a17" stroke="#1b1a17" stroke-width="0.9" textLength="31.6" lengthAdjust="spacingAndGlyphs" >P</text>
<text x="458.1" y="3225.8" font-size="59.17" fill="#1b1a17" stroke="#1b1a17" stroke-width="0.9" textLength="254.7" lengthAdjust="spacingAndGlyphs" >Low ATF4</text>
<text x="1093.6" y="3225.8" font-size="59.17" fill="#1b1a17" stroke="#1b1a17" stroke-width="0.9" textLength="268.4" lengthAdjust="spacingAndGlyphs" >High ATF4</text>
<text x="795.2" y="3300.4" font-size="59.17" fill="#1b1a17" stroke="#1b1a17" stroke-width="0.9" textLength="223.2" lengthAdjust="spacingAndGlyphs" >ER stress</text>
<line x1="428.8" y1="1989.0" x2="428.8" y2="2166.6" stroke="#1b1a17" stroke-width="4.9" stroke-linecap="butt" />
<polygon points="428.8,1975.2 410.0,1990.6 447.6,1990.6" fill="#1b1a17" stroke="none" stroke-width="0" stroke-linejoin="miter" stroke-linecap="butt" />
<text x="438.5" y="2042.3" font-size="59.17" fill="#1b1a17" stroke="#1b1a17" stroke-width="0.9" textLength="331.2" lengthAdjust="spacingAndGlyphs" >Desensitized</text>
<text x="508.2" y="2116.5" font-size="59.17" fill="#1b1a17" stroke="#1b1a17" stroke-width="0.9" textLength="195.3" lengthAdjust="spacingAndGlyphs" >to ISRIB</text>
<line x1="1378.4" y1="2816.2" x2="1378.4" y2="2994.0" stroke="#1b1a17" stroke-width="4.9" stroke-linecap="butt" />
<polygon points="1378.4,3006.6 1359.4,2993.2 1397.4,2993.2" fill="#1b1a17" stroke="none" stroke-width="0" stroke-linejoin="miter" stroke-linecap="butt" />
<text x="1071.2" y="2924.7" font-size="59.17" fill="#1b1a17" stroke="#1b1a17" stroke-width="0.9" textLength="264.4" lengthAdjust="spacingAndGlyphs" >Sensitized</text>
<text x="1107.2" y="3000.2" font-size="59.17" fill="#1b1a17" stroke="#1b1a17" stroke-width="0.9" textLength="191.9" lengthAdjust="spacingAndGlyphs" >to ISRIB</text>
<line x1="908.3" y1="2000.0" x2="908.3" y2="3046.3" stroke="#1b1a17" stroke-width="4.9" stroke-linecap="butt" />
<line x1="384.0" y1="2522.6" x2="1432.0" y2="2522.6" stroke="#1b1a17" stroke-width="4.9" stroke-linecap="butt" />
<line x1="385.0" y1="3045.5" x2="1432.0" y2="1995.5" stroke="#1b1a17" stroke-width="4.9" stroke-linecap="butt" />
<polygon points="910.2,2421.4 914.8,2414.8 925.7,2413.2 930.4,2423.3 941.2,2425.0 953.5,2431.5 962.5,2441.3 966.9,2447.7 974.1,2460.4 983.2,2467.8 986.0,2475.5 980.5,2486.5 995.3,2487.4 1005.4,2484.0 1013.6,2491.4 1021.9,2499.1 1025.2,2508.4 1021.8,2517.8 1025.4,2531.8 1024.1,2547.4 1026.2,2563.4 1023.4,2579.4 1012.2,2587.2 1004.4,2595.0 988.6,2602.8 972.7,2607.2 957.0,2608.5 941.3,2606.6 933.5,2615.1 917.8,2616.9 900.6,2608.7 891.3,2602.3 887.2,2582.5 879.7,2569.8 867.2,2562.3 852.6,2558.2 844.8,2542.7 831.6,2535.0 824.9,2528.9 828.4,2513.1 835.2,2505.2 848.6,2499.2 858.6,2493.1 861.6,2480.9 872.8,2473.6 877.3,2465.9 875.1,2454.7 889.1,2447.3 894.7,2431.0 901.0,2429.5 908.7,2426.4" fill="#8E8B8B" stroke="none" stroke-width="0" stroke-linejoin="miter" stroke-linecap="butt" />
<g fill="#8E8B8B"><circle cx="932.2" cy="2334.5" r="7.7"/><circle cx="1009.1" cy="2348.7" r="7.7"/><circle cx="991.0" cy="2361.7" r="7.7"/><circle cx="972.9" cy="2369.8" r="7.7"/><circle cx="1037.8" cy="2367.7" r="7.7"/><circle cx="1034.7" cy="2370.7" r="7.7"/><circle cx="917.1" cy="2373.7" r="7.7"/><circle cx="929.2" cy="2370.7" r="7.7"/><circle cx="941.3" cy="2370.7" r="7.7"/><circle cx="951.8" cy="2374.6" r="7.7"/><circle cx="923.2" cy="2385.8" r="7.7"/><circle cx="945.8" cy="2390.3" r="7.7"/><circle cx="950.3" cy="2402.4" r="7.7"/><circle cx="986.5" cy="2390.3" r="7.7"/><circle cx="1007.6" cy="2405.4" r="7.7"/><circle cx="832.7" cy="2378.3" r="7.7"/><circle cx="880.3" cy="2396.3" r="7.7"/><circle cx="1134.3" cy="2400.9" r="7.7"/><circle cx="1105.6" cy="2420.5" r="7.7"/><circle cx="891.5" cy="2423.5" r="7.7"/><circle cx="965.4" cy="2438.6" r="7.7"/><circle cx="1001.6" cy="2435.5" r="7.7"/><circle cx="1000.0" cy="2447.6" r="7.7"/><circle cx="1021.2" cy="2465.7" r="7.7"/><circle cx="868.9" cy="2449.1" r="7.7"/><circle cx="802.5" cy="2477.2" r="7.7"/><circle cx="760.3" cy="2494.4" r="7.7"/><circle cx="784.4" cy="2514.6" r="7.7"/><circle cx="1051.3" cy="2485.3" r="7.7"/><circle cx="1064.9" cy="2486.8" r="7.7"/><circle cx="1060.4" cy="2500.4" r="7.7"/><circle cx="1095.0" cy="2491.3" r="7.7"/><circle cx="1086.0" cy="2501.9" r="7.7"/><circle cx="1108.6" cy="2501.3" r="7.7"/><circle cx="1104.1" cy="2510.9" r="7.7"/><circle cx="1144.8" cy="2513.4" r="7.7"/><circle cx="1099.6" cy="2525.4" r="7.7"/><circle cx="1119.2" cy="2525.4" r="7.7"/><circle cx="1072.4" cy="2520.0" r="7.7"/><circle cx="1077.0" cy="2530.5" r="7.7"/><circle cx="1090.5" cy="2545.6" r="7.7"/><circle cx="1072.4" cy="2548.6" r="7.7"/><circle cx="1043.8" cy="2554.7" r="7.7"/><circle cx="1051.3" cy="2572.8" r="7.7"/><circle cx="1072.4" cy="2574.3" r="7.7"/><circle cx="1043.8" cy="2584.8" r="7.7"/><circle cx="1093.5" cy="2594.8" r="7.7"/><circle cx="1060.4" cy="2595.4" r="7.7"/><circle cx="1033.2" cy="2613.5" r="7.7"/><circle cx="1054.3" cy="2619.5" r="7.7"/><circle cx="751.3" cy="2539.6" r="7.7"/><circle cx="768.8" cy="2547.1" r="7.7"/><circle cx="805.5" cy="2565.2" r="7.7"/><circle cx="813.1" cy="2548.6" r="7.7"/><circle cx="819.1" cy="2562.2" r="7.7"/><circle cx="826.7" cy="2541.1" r="7.7"/><circle cx="798.0" cy="2589.3" r="7.7"/><circle cx="807.1" cy="2599.9" r="7.7"/><circle cx="792.0" cy="2595.4" r="7.7"/><circle cx="831.2" cy="2589.3" r="7.7"/><circle cx="850.2" cy="2598.4" r="7.7"/><circle cx="823.6" cy="2608.9" r="7.7"/><circle cx="835.7" cy="2619.5" r="7.7"/><circle cx="868.9" cy="2608.9" r="7.7"/><circle cx="870.4" cy="2621.0" r="7.7"/><circle cx="880.9" cy="2619.5" r="7.7"/><circle cx="896.0" cy="2615.0" r="7.7"/><circle cx="911.1" cy="2634.6" r="7.7"/><circle cx="914.1" cy="2643.6" r="7.7"/><circle cx="894.5" cy="2646.6" r="7.7"/><circle cx="914.1" cy="2655.7" r="7.7"/><circle cx="941.3" cy="2654.2" r="7.7"/><circle cx="950.3" cy="2648.2" r="7.7"/><circle cx="947.3" cy="2663.2" r="7.7"/><circle cx="1018.2" cy="2636.1" r="7.7"/><circle cx="1018.2" cy="2649.7" r="7.7"/><circle cx="985.0" cy="2664.7" r="7.7"/><circle cx="1037.8" cy="2682.8" r="7.7"/><circle cx="1104.1" cy="2687.4" r="7.7"/><circle cx="1105.6" cy="2690.4" r="7.7"/><circle cx="1156.9" cy="2663.2" r="7.7"/><circle cx="736.2" cy="2637.6" r="7.7"/><circle cx="790.5" cy="2639.1" r="7.7"/><circle cx="831.2" cy="2643.6" r="7.7"/><circle cx="831.2" cy="2664.7" r="7.7"/><circle cx="877.9" cy="2681.3" r="7.7"/><circle cx="730.2" cy="2672.3" r="7.7"/><circle cx="706.0" cy="2690.4" r="7.7"/><circle cx="840.2" cy="2711.5" r="7.7"/><circle cx="846.3" cy="2725.0" r="7.7"/><circle cx="1167.3" cy="2165.3" r="7.7"/><circle cx="911.0" cy="2232.3" r="7.7"/><circle cx="1006.6" cy="2233.8" r="7.7"/><circle cx="984.9" cy="2279.9" r="7.7"/><circle cx="1013.2" cy="2303.2" r="7.7"/><circle cx="1049.7" cy="2301.7" r="7.7"/><circle cx="1111.5" cy="2304.7" r="7.7"/><circle cx="955.9" cy="2324.3" r="7.7"/><circle cx="977.9" cy="2328.8" r="7.7"/><circle cx="1009.6" cy="2348.4" r="7.7"/><circle cx="990.9" cy="2362.0" r="7.7"/><circle cx="1038.2" cy="2366.5" r="7.7"/><circle cx="833.2" cy="2378.0" r="7.7"/><circle cx="917.6" cy="2373.1" r="7.7"/><circle cx="938.7" cy="2370.1" r="7.7"/><circle cx="923.6" cy="2386.1" r="7.7"/><circle cx="946.3" cy="2390.0" r="7.7"/><circle cx="986.4" cy="2390.0" r="7.7"/><circle cx="879.9" cy="2396.6" r="7.7"/><circle cx="920.6" cy="2407.2" r="7.7"/><circle cx="1007.5" cy="2405.1" r="7.7"/><circle cx="1106.1" cy="2417.8" r="7.7"/><circle cx="1005.5" cy="2432.7" r="7.7"/><circle cx="1021.6" cy="2466.0" r="7.7"/><circle cx="1063.8" cy="2488.2" r="7.7"/><circle cx="1065.2" cy="2493.8" r="7.7"/><circle cx="1062.4" cy="2502.1" r="7.7"/><circle cx="1037.5" cy="2496.5" r="7.7"/><circle cx="1094.3" cy="2492.4" r="7.7"/><circle cx="1108.2" cy="2502.1" r="7.7"/><circle cx="1105.4" cy="2511.8" r="7.7"/><circle cx="1069.4" cy="2520.1" r="7.7"/><circle cx="1076.3" cy="2531.2" r="7.7"/><circle cx="1100.4" cy="2524.8" r="7.7"/><circle cx="1090.2" cy="2546.5" r="7.7"/><circle cx="1072.1" cy="2549.2" r="7.7"/><circle cx="1061.0" cy="2546.5" r="7.7"/><circle cx="1044.4" cy="2552.0" r="7.7"/><circle cx="1072.1" cy="2575.6" r="7.7"/><circle cx="1043.0" cy="2585.3" r="7.7"/><circle cx="1060.5" cy="2594.2" r="7.7"/><circle cx="1093.8" cy="2594.5" r="7.7"/><circle cx="1037.5" cy="2599.2" r="7.7"/><circle cx="1033.3" cy="2615.8" r="7.7"/><circle cx="1054.1" cy="2619.2" r="7.7"/><circle cx="1018.0" cy="2636.6" r="7.7"/><circle cx="1018.0" cy="2650.5" r="7.7"/><circle cx="1157.6" cy="2664.4" r="7.7"/><circle cx="1038.8" cy="2683.8" r="7.7"/><circle cx="604.6" cy="2747.2" r="7.7"/><circle cx="609.1" cy="2773.0" r="7.7"/><circle cx="638.8" cy="2766.5" r="7.7"/><circle cx="609.1" cy="2808.5" r="7.7"/><circle cx="751.1" cy="2540.0" r="7.7"/><circle cx="768.5" cy="2546.5" r="7.7"/><circle cx="783.4" cy="2514.2" r="7.7"/><circle cx="805.9" cy="2564.5" r="7.7"/><circle cx="813.7" cy="2546.5" r="7.7"/><circle cx="793.0" cy="2596.8" r="7.7"/><circle cx="802.7" cy="2600.0" r="7.7"/><circle cx="822.1" cy="2609.7" r="7.7"/><circle cx="835.0" cy="2619.4" r="7.7"/><circle cx="851.1" cy="2600.0" r="7.7"/><circle cx="870.5" cy="2603.3" r="7.7"/><circle cx="870.5" cy="2619.4" r="7.7"/><circle cx="883.4" cy="2617.5" r="7.7"/><circle cx="896.3" cy="2612.9" r="7.7"/><circle cx="909.2" cy="2634.2" r="7.7"/><circle cx="914.4" cy="2654.9" r="7.7"/><circle cx="895.0" cy="2647.1" r="7.7"/><circle cx="946.6" cy="2649.7" r="7.7"/><circle cx="949.2" cy="2603.3" r="7.7"/><circle cx="966.0" cy="2616.2" r="7.7"/><circle cx="983.4" cy="2664.6" r="7.7"/><circle cx="1017.6" cy="2635.5" r="7.7"/><circle cx="1017.6" cy="2649.7" r="7.7"/><circle cx="1038.3" cy="2683.9" r="7.7"/><circle cx="1102.8" cy="2685.9" r="7.7"/><circle cx="1106.0" cy="2688.4" r="7.7"/><circle cx="1157.7" cy="2664.6" r="7.7"/><circle cx="1093.1" cy="2595.5" r="7.7"/><circle cx="1058.9" cy="2593.6" r="7.7"/><circle cx="1071.8" cy="2574.2" r="7.7"/><circle cx="736.2" cy="2638.8" r="7.7"/><circle cx="793.0" cy="2638.8" r="7.7"/><circle cx="831.8" cy="2643.3" r="7.7"/><circle cx="831.8" cy="2664.6" r="7.7"/><circle cx="878.2" cy="2682.0" r="7.7"/><circle cx="729.8" cy="2673.0" r="7.7"/><circle cx="697.5" cy="2690.4" r="7.7"/><circle cx="705.9" cy="2692.3" r="7.7"/><circle cx="688.5" cy="2706.5" r="7.7"/><circle cx="843.4" cy="2714.3" r="7.7"/><circle cx="846.0" cy="2729.1" r="7.7"/><circle cx="910.4" cy="2422.1" r="7.7"/><circle cx="914.8" cy="2414.9" r="7.7"/><circle cx="925.8" cy="2415.3" r="7.7"/><circle cx="930.4" cy="2423.1" r="7.7"/><circle cx="941.1" cy="2426.6" r="7.7"/><circle cx="953.2" cy="2432.5" r="7.7"/><circle cx="962.6" cy="2441.0" r="7.7"/><circle cx="966.2" cy="2449.1" r="7.7"/><circle cx="974.3" cy="2460.1" r="7.7"/><circle cx="982.3" cy="2468.6" r="7.7"/><circle cx="986.2" cy="2475.4" r="7.7"/><circle cx="980.6" cy="2486.5" r="7.7"/><circle cx="994.2" cy="2487.8" r="7.7"/><circle cx="1002.8" cy="2484.9" r="7.7"/><circle cx="1013.6" cy="2491.4" r="7.7"/><circle cx="1021.5" cy="2499.2" r="7.7"/><circle cx="1023.2" cy="2508.4" r="7.7"/><circle cx="1018.5" cy="2517.5" r="7.7"/><circle cx="1023.6" cy="2531.4" r="7.7"/><circle cx="1023.1" cy="2547.0" r="7.7"/><circle cx="1023.3" cy="2561.7" r="7.7"/><circle cx="1023.7" cy="2579.6" r="7.7"/><circle cx="1010.1" cy="2585.1" r="7.7"/><circle cx="1004.0" cy="2594.5" r="7.7"/><circle cx="996.4" cy="2598.8" r="7.7"/><circle cx="988.6" cy="2602.8" r="7.7"/><circle cx="972.5" cy="2606.5" r="7.7"/><circle cx="956.3" cy="2605.8" r="7.7"/><circle cx="941.3" cy="2606.4" r="7.7"/><circle cx="933.5" cy="2613.3" r="7.7"/><circle cx="918.1" cy="2614.8" r="7.7"/><circle cx="909.4" cy="2611.8" r="7.7"/><circle cx="901.1" cy="2607.1" r="7.7"/><circle cx="891.2" cy="2602.5" r="7.7"/><circle cx="889.1" cy="2592.7" r="7.7"/><circle cx="887.4" cy="2582.3" r="7.7"/><circle cx="881.2" cy="2568.2" r="7.7"/><circle cx="868.1" cy="2561.6" r="7.7"/><circle cx="853.2" cy="2557.8" r="7.7"/><circle cx="850.4" cy="2549.7" r="7.7"/><circle cx="846.1" cy="2542.2" r="7.7"/><circle cx="832.3" cy="2534.9" r="7.7"/><circle cx="827.5" cy="2528.4" r="7.7"/><circle cx="830.7" cy="2513.1" r="7.7"/><circle cx="835.7" cy="2505.3" r="7.7"/><circle cx="850.4" cy="2499.4" r="7.7"/><circle cx="860.1" cy="2493.5" r="7.7"/><circle cx="864.4" cy="2482.0" r="7.7"/><circle cx="874.9" cy="2474.9" r="7.7"/><circle cx="877.8" cy="2466.3" r="7.7"/><circle cx="877.6" cy="2457.1" r="7.7"/><circle cx="889.1" cy="2447.3" r="7.7"/><circle cx="892.5" cy="2440.2" r="7.7"/><circle cx="895.8" cy="2433.3" r="7.7"/><circle cx="901.1" cy="2429.6" r="7.7"/><circle cx="909.1" cy="2427.8" r="7.7"/></g>
<polyline points="817.5,2187.7 847.6,2187.7 907.7,2211.2" fill="none" stroke="#BE1229" stroke-width="2.2" stroke-linejoin="miter" stroke-linecap="butt" />
<polyline points="826.5,2267.0 856.7,2267.0 919.1,2339.3" fill="none" stroke="#BE1229" stroke-width="2.2" stroke-linejoin="miter" stroke-linecap="butt" />
<polyline points="785.9,2341.5 826.7,2341.5 910.2,2477.8" fill="none" stroke="#BE1229" stroke-width="2.2" stroke-linejoin="miter" stroke-linecap="butt" />
<polyline points="785.9,2425.9 816.1,2425.9 877.3,2497.4" fill="none" stroke="#BE1229" stroke-width="2.2" stroke-linejoin="miter" stroke-linecap="butt" />
<polyline points="1192.6,2329.7 1101.6,2329.7 925.6,2489.2" fill="none" stroke="#BE1229" stroke-width="2.2" stroke-linejoin="miter" stroke-linecap="butt" />
<polyline points="1191.6,2429.5 1119.2,2429.5 982.0,2501.3" fill="none" stroke="#BE1229" stroke-width="2.2" stroke-linejoin="miter" stroke-linecap="butt" />
<polyline points="1222.2,2484.4 1153.9,2485.3 1022.7,2523.9" fill="none" stroke="#BE1229" stroke-width="2.2" stroke-linejoin="miter" stroke-linecap="butt" />
<polyline points="1138.8,2624.9 1066.4,2624.9 928.6,2526.0" fill="none" stroke="#BE1229" stroke-width="2.2" stroke-linejoin="miter" stroke-linecap="butt" />
<polyline points="722.6,2603.8 767.9,2603.8 856.2,2646.0" fill="none" stroke="#BE1229" stroke-width="2.2" stroke-linejoin="miter" stroke-linecap="butt" />
<polyline points="688.5,2671.0 718.1,2672.3 779.9,2711.5" fill="none" stroke="#BE1229" stroke-width="2.2" stroke-linejoin="miter" stroke-linecap="butt" />
<polyline points="996.3,2760.1 947.9,2760.1 853.8,2714.5" fill="none" stroke="#BE1229" stroke-width="2.2" stroke-linejoin="miter" stroke-linecap="butt" />
<g fill="#D65B2B"><circle cx="918.9" cy="2221.5" r="8.8"/><circle cx="932.0" cy="2345.5" r="8.8"/><circle cx="920.5" cy="2494.4" r="8.8"/><circle cx="887.0" cy="2505.3" r="8.8"/><circle cx="915.6" cy="2507.9" r="8.8"/><circle cx="917.0" cy="2515.5" r="8.8"/><circle cx="971.6" cy="2507.0" r="8.8"/><circle cx="1010.2" cy="2530.8" r="8.8"/><circle cx="867.3" cy="2655.0" r="8.8"/><circle cx="787.7" cy="2716.4" r="8.8"/><circle cx="834.0" cy="2707.4" r="8.8"/><circle cx="762.1" cy="2767.8" r="8.8"/><circle cx="873.7" cy="2774.3" r="8.8"/><circle cx="643.3" cy="2902.1" r="8.8"/></g>
<text x="635.8" y="2203.8" font-size="58.68" fill="#1b1a17" stroke="#1b1a17" stroke-width="0.9" textLength="171.1" lengthAdjust="spacingAndGlyphs" >eIF2B5</text>
<text x="643.6" y="2281.2" font-size="58.68" fill="#1b1a17" stroke="#1b1a17" stroke-width="0.9" textLength="171.6" lengthAdjust="spacingAndGlyphs" >eIF2B4</text>
<text x="671.4" y="2363.8" font-size="58.68" fill="#1b1a17" stroke="#1b1a17" stroke-width="0.9" textLength="105.9" lengthAdjust="spacingAndGlyphs" >eIF5</text>
<text x="627.5" y="2433.5" font-size="58.68" fill="#1b1a17" stroke="#1b1a17" stroke-width="0.9" textLength="144.3" lengthAdjust="spacingAndGlyphs" >eIF2A</text>
<text x="1210.3" y="2361.9" font-size="58.68" fill="#1b1a17" stroke="#1b1a17" stroke-width="0.9" textLength="101.4" lengthAdjust="spacingAndGlyphs" >eIF1</text>
<text x="1201.6" y="2441.3" font-size="58.68" fill="#1b1a17" stroke="#1b1a17" stroke-width="0.9" textLength="207.7" lengthAdjust="spacingAndGlyphs" >eIF4E1B</text>
<text x="1231.3" y="2504.3" font-size="58.68" fill="#1b1a17" stroke="#1b1a17" stroke-width="0.9" textLength="142.5" lengthAdjust="spacingAndGlyphs" >eIF3K</text>
<text x="1149.6" y="2642.4" font-size="58.68" fill="#1b1a17" stroke="#1b1a17" stroke-width="0.9" textLength="180.6" lengthAdjust="spacingAndGlyphs" >eIF5A2</text>
<text x="572.6" y="2607.3" font-size="58.68" fill="#1b1a17" stroke="#1b1a17" stroke-width="0.9" textLength="144.6" lengthAdjust="spacingAndGlyphs" >eIF4B</text>
<text x="506.8" y="2681.5" font-size="58.68" fill="#1b1a17" stroke="#1b1a17" stroke-width="0.9" textLength="172.7" lengthAdjust="spacingAndGlyphs" >eIF4A1</text>
<text x="1008.9" y="2768.6" font-size="58.68" fill="#1b1a17" stroke="#1b1a17" stroke-width="0.9" textLength="141.9" lengthAdjust="spacingAndGlyphs" >eIF3B</text>
<text x="666.8" y="2831.2" font-size="58.68" fill="#1b1a17" stroke="#1b1a17" stroke-width="0.9" textLength="144.4" lengthAdjust="spacingAndGlyphs" >eIF3A</text>
<text x="827.6" y="2836.4" font-size="58.68" fill="#1b1a17" stroke="#1b1a17" stroke-width="0.9" textLength="175.8" lengthAdjust="spacingAndGlyphs" >eIF4G1</text>
<text x="572.6" y="2965.5" font-size="58.68" fill="#1b1a17" stroke="#1b1a17" stroke-width="0.9" textLength="139.9" lengthAdjust="spacingAndGlyphs" >eIF3F</text>
<text x="1641.5" y="1916.8" font-size="60.5" fill="#1b1a17" stroke="#1b1a17" stroke-width="0.9" textLength="28.5" lengthAdjust="spacingAndGlyphs" >E</text>
<circle cx="1834.4" cy="1877.1" r="7.3" fill="#DB8689" stroke="#1b1a17" stroke-width="2.3"/>
<circle cx="1819.8" cy="1905.9" r="7.3" fill="#C8141B" stroke="#1b1a17" stroke-width="2.3"/>
<circle cx="1850.7" cy="1905.9" r="7.3" fill="#F7E0E1" stroke="#1b1a17" stroke-width="2.3"/>
<circle cx="1834.4" cy="1945.0" r="8.2" fill="#D9D9D9" stroke="none" stroke-width="0"/>
<circle cx="1819.8" cy="1972.1" r="8.2" fill="#D9D9D9" stroke="none" stroke-width="0"/>
<circle cx="1850.7" cy="1972.1" r="8.2" fill="#D9D9D9" stroke="none" stroke-width="0"/>
<text x="1873.5" y="1914.5" font-size="58.68" fill="#1b1a17" stroke="#1b1a17" stroke-width="0.9" textLength="632.5" lengthAdjust="spacingAndGlyphs" >shRNAs targeting eIF2B5</text>
<text x="1870.4" y="1980.3" font-size="58.68" fill="#1b1a17" stroke="#1b1a17" stroke-width="0.9" textLength="641.9" lengthAdjust="spacingAndGlyphs" >Negative control shRNAs</text>
<polygon points="2253.2,2135.1 2269.2,2128.5 2283.0,2125.9 2294.4,2114.3 2311.4,2094.5 2317.0,2091.0 2337.7,2069.3 2354.0,2068.0 2370.5,2058.3 2384.7,2050.9 2398.9,2043.5 2410.8,2038.6 2429.8,2036.0 2446.5,2041.8 2451.1,2047.7 2446.3,2053.8 2434.3,2062.2 2431.7,2074.2 2428.0,2089.7 2425.3,2108.6 2415.6,2118.0 2409.4,2132.1 2417.7,2140.1 2420.0,2148.3 2397.1,2148.4 2382.8,2148.6 2375.4,2164.3 2370.9,2175.3 2361.8,2184.1 2385.8,2196.4 2397.7,2200.2 2386.0,2203.5 2351.3,2209.7 2328.5,2226.3 2307.2,2246.8 2291.9,2254.8 2276.5,2267.4 2270.2,2278.4 2251.7,2289.5 2242.4,2292.7 2236.3,2280.4 2223.9,2274.3 2230.2,2266.5 2242.7,2258.5 2236.7,2246.2 2230.7,2230.9 2238.7,2218.5 2235.7,2203.2 2239.0,2187.9 2251.6,2178.7 2265.4,2171.3 2265.5,2158.0 2259.4,2142.7" fill="#D9D9D9" stroke="none" stroke-width="0" stroke-linejoin="miter" stroke-linecap="butt" />
<g fill="#D9D9D9"><circle cx="2127.0" cy="2217.6" r="7.8"/><circle cx="2127.0" cy="2277.8" r="7.8"/><circle cx="2149.3" cy="2256.1" r="7.8"/><circle cx="2160.7" cy="2259.5" r="7.8"/><circle cx="2163.0" cy="2273.3" r="7.8"/><circle cx="2179.1" cy="2274.4" r="7.8"/><circle cx="2171.1" cy="2292.7" r="7.8"/><circle cx="2166.5" cy="2304.2" r="7.8"/><circle cx="2184.8" cy="2306.5" r="7.8"/><circle cx="2165.3" cy="2320.3" r="7.8"/><circle cx="2196.3" cy="2323.7" r="7.8"/><circle cx="2204.3" cy="2329.4" r="7.8"/><circle cx="2218.0" cy="2318.0" r="7.8"/><circle cx="2228.4" cy="2329.4" r="7.8"/><circle cx="2255.9" cy="2329.4" r="7.8"/><circle cx="2296.7" cy="2329.4" r="7.8"/><circle cx="2220.3" cy="2353.5" r="7.8"/><circle cx="2239.8" cy="2362.6" r="7.8"/><circle cx="2257.0" cy="2357.4" r="7.8"/><circle cx="2217.3" cy="2394.7" r="7.8"/><circle cx="2179.1" cy="2234.3" r="7.8"/><circle cx="2187.1" cy="2243.5" r="7.8"/><circle cx="2196.3" cy="2264.1" r="7.8"/><circle cx="2212.3" cy="2224.0" r="7.8"/><circle cx="2214.6" cy="2164.4" r="7.8"/><circle cx="2200.8" cy="2181.6" r="7.8"/><circle cx="2229.5" cy="2143.8" r="7.8"/><circle cx="2260.4" cy="2120.8" r="7.8"/><circle cx="2251.3" cy="2157.5" r="7.8"/><circle cx="2448.4" cy="2067.0" r="7.8"/><circle cx="2425.5" cy="2110.5" r="7.8"/><circle cx="2420.9" cy="2142.6" r="7.8"/><circle cx="2394.5" cy="2201.1" r="7.8"/><circle cx="2372.7" cy="2178.1" r="7.8"/><circle cx="2321.2" cy="2259.5" r="7.8"/><circle cx="2265.0" cy="2292.7" r="7.8"/><circle cx="2274.2" cy="2292.7" r="7.8"/><circle cx="1871.3" cy="2352.8" r="7.8"/><circle cx="2052.2" cy="2318.1" r="7.8"/><circle cx="2127.0" cy="2217.7" r="7.8"/><circle cx="2160.8" cy="2413.2" r="7.8"/><circle cx="2195.5" cy="2413.2" r="7.8"/><circle cx="2221.1" cy="2413.2" r="7.8"/><circle cx="2217.2" cy="2394.3" r="7.8"/><circle cx="2122.7" cy="2604.2" r="7.8"/><circle cx="2190.7" cy="2604.2" r="7.8"/><circle cx="2240.4" cy="2361.5" r="7.8"/><circle cx="2257.3" cy="2356.7" r="7.8"/><circle cx="2296.9" cy="2330.2" r="7.8"/><circle cx="2256.3" cy="2330.2" r="7.8"/><circle cx="2165.6" cy="2320.5" r="7.8"/><circle cx="2447.9" cy="2066.2" r="7.8"/><circle cx="2450.3" cy="2044.0" r="7.8"/><circle cx="2433.4" cy="2037.3" r="7.8"/><circle cx="2418.9" cy="2040.7" r="7.8"/><circle cx="2419.0" cy="2143.4" r="7.8"/><circle cx="2394.8" cy="2201.3" r="7.8"/><circle cx="2377.9" cy="2201.3" r="7.8"/><circle cx="2322.4" cy="2259.2" r="7.8"/><circle cx="2214.5" cy="2164.7" r="7.8"/><circle cx="2201.2" cy="2181.9" r="7.8"/><circle cx="2225.5" cy="2207.8" r="7.8"/><circle cx="2212.1" cy="2224.3" r="7.8"/><circle cx="2179.2" cy="2234.5" r="7.8"/><circle cx="2149.4" cy="2255.6" r="7.8"/><circle cx="2160.4" cy="2259.6" r="7.8"/><circle cx="2163.5" cy="2274.5" r="7.8"/><circle cx="2179.2" cy="2274.5" r="7.8"/><circle cx="2197.2" cy="2264.3" r="7.8"/><circle cx="2216.8" cy="2280.7" r="7.8"/><circle cx="2170.6" cy="2293.3" r="7.8"/><circle cx="2165.1" cy="2305.0" r="7.8"/><circle cx="2185.5" cy="2307.4" r="7.8"/><circle cx="2165.9" cy="2320.7" r="7.8"/><circle cx="2195.7" cy="2323.1" r="7.8"/><circle cx="2204.3" cy="2329.3" r="7.8"/><circle cx="2218.4" cy="2317.6" r="7.8"/><circle cx="2228.6" cy="2330.1" r="7.8"/><circle cx="2256.0" cy="2329.3" r="7.8"/><circle cx="2296.8" cy="2329.3" r="7.8"/><circle cx="2220.8" cy="2353.7" r="7.8"/><circle cx="2240.4" cy="2362.3" r="7.8"/><circle cx="2256.8" cy="2357.6" r="7.8"/><circle cx="2234.1" cy="2290.9" r="7.8"/><circle cx="2237.2" cy="2305.8" r="7.8"/><circle cx="2257.6" cy="2297.2" r="7.8"/><circle cx="2273.3" cy="2292.5" r="7.8"/><circle cx="2321.1" cy="2259.6" r="7.8"/><circle cx="2373.7" cy="2177.2" r="7.8"/><circle cx="2380.7" cy="2201.5" r="7.8"/><circle cx="2394.0" cy="2201.5" r="7.8"/><circle cx="2350.1" cy="2218.8" r="7.8"/><circle cx="2448.9" cy="2042.9" r="7.8"/><circle cx="2448.9" cy="2067.0" r="7.8"/><circle cx="2426.0" cy="2110.5" r="7.8"/><circle cx="2421.1" cy="2143.0" r="7.8"/><circle cx="2399.4" cy="2145.5" r="7.8"/><circle cx="2373.5" cy="2178.0" r="7.8"/><circle cx="2394.6" cy="2201.0" r="7.8"/><circle cx="2380.1" cy="2201.0" r="7.8"/><circle cx="2292.1" cy="2111.7" r="7.8"/><circle cx="2310.2" cy="2091.2" r="7.8"/><circle cx="2316.2" cy="2087.6" r="7.8"/><circle cx="2283.6" cy="2118.9" r="7.8"/><circle cx="2249.8" cy="2134.1" r="7.8"/><circle cx="2262.3" cy="2140.4" r="7.8"/><circle cx="2227.8" cy="2232.9" r="7.8"/><circle cx="2221.5" cy="2276.8" r="7.8"/><circle cx="2227.8" cy="2269.0" r="7.8"/><circle cx="2254.4" cy="2135.4" r="7.8"/><circle cx="2270.8" cy="2129.2" r="7.8"/><circle cx="2285.7" cy="2127.6" r="7.8"/><circle cx="2295.3" cy="2115.3" r="7.8"/><circle cx="2303.7" cy="2105.7" r="7.8"/><circle cx="2312.0" cy="2096.2" r="7.8"/><circle cx="2317.1" cy="2091.2" r="7.8"/><circle cx="2324.1" cy="2085.3" r="7.8"/><circle cx="2330.9" cy="2078.5" r="7.8"/><circle cx="2337.6" cy="2072.0" r="7.8"/><circle cx="2354.1" cy="2067.9" r="7.8"/><circle cx="2362.0" cy="2063.8" r="7.8"/><circle cx="2370.5" cy="2058.2" r="7.8"/><circle cx="2383.5" cy="2053.3" r="7.8"/><circle cx="2397.7" cy="2045.5" r="7.8"/><circle cx="2411.0" cy="2038.4" r="7.8"/><circle cx="2418.3" cy="2040.1" r="7.8"/><circle cx="2427.8" cy="2038.7" r="7.8"/><circle cx="2445.0" cy="2043.3" r="7.8"/><circle cx="2449.7" cy="2049.0" r="7.8"/><circle cx="2446.2" cy="2053.9" r="7.8"/><circle cx="2434.6" cy="2061.9" r="7.8"/><circle cx="2430.5" cy="2075.2" r="7.8"/><circle cx="2428.2" cy="2089.5" r="7.8"/><circle cx="2426.4" cy="2099.2" r="7.8"/><circle cx="2424.9" cy="2108.8" r="7.8"/><circle cx="2415.9" cy="2117.9" r="7.8"/><circle cx="2408.1" cy="2132.6" r="7.8"/><circle cx="2416.4" cy="2140.4" r="7.8"/><circle cx="2417.2" cy="2148.6" r="7.8"/><circle cx="2407.0" cy="2148.6" r="7.8"/><circle cx="2395.1" cy="2148.7" r="7.8"/><circle cx="2381.3" cy="2148.8" r="7.8"/><circle cx="2373.3" cy="2164.0" r="7.8"/><circle cx="2369.7" cy="2174.8" r="7.8"/><circle cx="2361.4" cy="2183.7" r="7.8"/><circle cx="2371.1" cy="2188.1" r="7.8"/><circle cx="2383.0" cy="2194.4" r="7.8"/><circle cx="2395.3" cy="2198.6" r="7.8"/><circle cx="2384.2" cy="2202.0" r="7.8"/><circle cx="2373.9" cy="2205.0" r="7.8"/><circle cx="2362.6" cy="2207.3" r="7.8"/><circle cx="2351.1" cy="2209.1" r="7.8"/><circle cx="2343.7" cy="2215.4" r="7.8"/><circle cx="2336.0" cy="2218.2" r="7.8"/><circle cx="2328.5" cy="2225.2" r="7.8"/><circle cx="2321.8" cy="2230.3" r="7.8"/><circle cx="2314.5" cy="2239.0" r="7.8"/><circle cx="2308.1" cy="2243.7" r="7.8"/><circle cx="2293.0" cy="2252.1" r="7.8"/><circle cx="2284.0" cy="2261.5" r="7.8"/><circle cx="2276.7" cy="2267.1" r="7.8"/><circle cx="2271.7" cy="2275.6" r="7.8"/><circle cx="2261.6" cy="2282.8" r="7.8"/><circle cx="2253.5" cy="2286.6" r="7.8"/><circle cx="2243.0" cy="2291.8" r="7.8"/><circle cx="2236.1" cy="2280.5" r="7.8"/><circle cx="2225.3" cy="2272.8" r="7.8"/><circle cx="2232.0" cy="2264.6" r="7.8"/><circle cx="2243.1" cy="2258.1" r="7.8"/><circle cx="2236.6" cy="2246.3" r="7.8"/><circle cx="2231.3" cy="2230.4" r="7.8"/><circle cx="2241.5" cy="2216.7" r="7.8"/><circle cx="2238.0" cy="2202.2" r="7.8"/><circle cx="2239.0" cy="2188.0" r="7.8"/><circle cx="2252.1" cy="2178.6" r="7.8"/><circle cx="2265.3" cy="2171.3" r="7.8"/><circle cx="2265.2" cy="2158.0" r="7.8"/><circle cx="2262.1" cy="2143.2" r="7.8"/></g>
<circle cx="2263.2" cy="2080.0" r="7.7" fill="#C8141B" stroke="#1b1a17" stroke-width="2.5"/>
<circle cx="2287.9" cy="2077.3" r="7.7" fill="#CB2126" stroke="#1b1a17" stroke-width="2.5"/>
<circle cx="2310.4" cy="2068.6" r="7.7" fill="#D03A3E" stroke="#1b1a17" stroke-width="2.5"/>
<circle cx="2328.5" cy="2084.2" r="7.7" fill="#DC8385" stroke="#1b1a17" stroke-width="2.5"/>
<circle cx="2359.0" cy="2093.3" r="7.7" fill="#F0CDCE" stroke="#1b1a17" stroke-width="2.5"/>
<circle cx="2339.5" cy="2105.5" r="7.7" fill="#EBBCBD" stroke="#1b1a17" stroke-width="2.5"/>
<circle cx="2248.5" cy="2119.0" r="7.7" fill="#CE2E33" stroke="#1b1a17" stroke-width="2.5"/>
<circle cx="2301.7" cy="2116.3" r="7.7" fill="#E0989A" stroke="#1b1a17" stroke-width="2.5"/>
<circle cx="2305.8" cy="2118.6" r="7.7" fill="#E0989A" stroke="#1b1a17" stroke-width="2.5"/>
<circle cx="2313.2" cy="2111.2" r="7.7" fill="#DE9193" stroke="#1b1a17" stroke-width="2.5"/>
<circle cx="2263.2" cy="2144.9" r="7.7" fill="#DD8587" stroke="#1b1a17" stroke-width="2.5"/>
<circle cx="2269.6" cy="2141.5" r="7.7" fill="#DD8587" stroke="#1b1a17" stroke-width="2.5"/>
<circle cx="2315.9" cy="2141.0" r="7.7" fill="#F3DADB" stroke="#1b1a17" stroke-width="2.5"/>
<circle cx="2199.0" cy="2149.5" r="7.7" fill="#C8161D" stroke="#1b1a17" stroke-width="2.5"/>
<circle cx="2191.0" cy="2163.2" r="7.7" fill="#CB1E22" stroke="#1b1a17" stroke-width="2.5"/>
<circle cx="2227.7" cy="2150.6" r="7.7" fill="#CF3337" stroke="#1b1a17" stroke-width="2.5"/>
<circle cx="2240.5" cy="2163.7" r="7.7" fill="#D8696C" stroke="#1b1a17" stroke-width="2.5"/>
<circle cx="2239.1" cy="2182.3" r="7.7" fill="#DE8E90" stroke="#1b1a17" stroke-width="2.5"/>
<circle cx="2185.3" cy="2185.0" r="7.7" fill="#CF2F33" stroke="#1b1a17" stroke-width="2.5"/>
<circle cx="2172.9" cy="2201.5" r="7.7" fill="#D2393D" stroke="#1b1a17" stroke-width="2.5"/>
<circle cx="2283.4" cy="2202.9" r="7.7" fill="#F9F9FC" stroke="#1b1a17" stroke-width="2.5"/>
<circle cx="2192.4" cy="2229.7" r="7.7" fill="#E0999B" stroke="#1b1a17" stroke-width="2.5"/>
<circle cx="2228.4" cy="2239.3" r="7.7" fill="#F7E6E7" stroke="#1b1a17" stroke-width="2.5"/>
<circle cx="2209.3" cy="2257.2" r="7.7" fill="#F5E4E5" stroke="#1b1a17" stroke-width="2.5"/>
<circle cx="2217.3" cy="2340.2" r="7.7" fill="#6D6DB6" stroke="#1b1a17" stroke-width="2.5"/>
<rect x="1842.6" y="2008.5" width="634.9" height="624.0" fill="none" stroke="#1b1a17" stroke-width="5"/>
<line x1="1922.0" y1="2632.5" x2="1922.0" y2="2624.5" stroke="#1b1a17" stroke-width="2.6" stroke-linecap="butt" />
<line x1="1922.0" y1="2008.5" x2="1922.0" y2="2016.5" stroke="#1b1a17" stroke-width="2.6" stroke-linecap="butt" />
<line x1="1842.6" y1="2554.1" x2="1850.6" y2="2554.1" stroke="#1b1a17" stroke-width="2.6" stroke-linecap="butt" />
<line x1="2477.5" y1="2554.1" x2="2469.5" y2="2554.1" stroke="#1b1a17" stroke-width="2.6" stroke-linecap="butt" />
<line x1="2022.4" y1="2632.5" x2="2022.4" y2="2624.5" stroke="#1b1a17" stroke-width="2.6" stroke-linecap="butt" />
<line x1="2022.4" y1="2008.5" x2="2022.4" y2="2016.5" stroke="#1b1a17" stroke-width="2.6" stroke-linecap="butt" />
<line x1="1842.6" y1="2453.6" x2="1850.6" y2="2453.6" stroke="#1b1a17" stroke-width="2.6" stroke-linecap="butt" />
<line x1="2477.5" y1="2453.6" x2="2469.5" y2="2453.6" stroke="#1b1a17" stroke-width="2.6" stroke-linecap="butt" />
<line x1="2122.8" y1="2632.5" x2="2122.8" y2="2624.5" stroke="#1b1a17" stroke-width="2.6" stroke-linecap="butt" />
<line x1="2122.8" y1="2008.5" x2="2122.8" y2="2016.5" stroke="#1b1a17" stroke-width="2.6" stroke-linecap="butt" />
<line x1="1842.6" y1="2353.1" x2="1850.6" y2="2353.1" stroke="#1b1a17" stroke-width="2.6" stroke-linecap="butt" />
<line x1="2477.5" y1="2353.1" x2="2469.5" y2="2353.1" stroke="#1b1a17" stroke-width="2.6" stroke-linecap="butt" />
<line x1="2223.2" y1="2632.5" x2="2223.2" y2="2624.5" stroke="#1b1a17" stroke-width="2.6" stroke-linecap="butt" />
<line x1="2223.2" y1="2008.5" x2="2223.2" y2="2016.5" stroke="#1b1a17" stroke-width="2.6" stroke-linecap="butt" />
<line x1="1842.6" y1="2252.6" x2="1850.6" y2="2252.6" stroke="#1b1a17" stroke-width="2.6" stroke-linecap="butt" />
<line x1="2477.5" y1="2252.6" x2="2469.5" y2="2252.6" stroke="#1b1a17" stroke-width="2.6" stroke-linecap="butt" />
<line x1="2323.6" y1="2632.5" x2="2323.6" y2="2624.5" stroke="#1b1a17" stroke-width="2.6" stroke-linecap="butt" />
<line x1="2323.6" y1="2008.5" x2="2323.6" y2="2016.5" stroke="#1b1a17" stroke-width="2.6" stroke-linecap="butt" />
<line x1="1842.6" y1="2152.1" x2="1850.6" y2="2152.1" stroke="#1b1a17" stroke-width="2.6" stroke-linecap="butt" />
<line x1="2477.5" y1="2152.1" x2="2469.5" y2="2152.1" stroke="#1b1a17" stroke-width="2.6" stroke-linecap="butt" />
<line x1="2424.0" y1="2632.5" x2="2424.0" y2="2624.5" stroke="#1b1a17" stroke-width="2.6" stroke-linecap="butt" />
<line x1="2424.0" y1="2008.5" x2="2424.0" y2="2016.5" stroke="#1b1a17" stroke-width="2.6" stroke-linecap="butt" />
<line x1="1842.6" y1="2051.6" x2="1850.6" y2="2051.6" stroke="#1b1a17" stroke-width="2.6" stroke-linecap="butt" />
<line x1="2477.5" y1="2051.6" x2="2469.5" y2="2051.6" stroke="#1b1a17" stroke-width="2.6" stroke-linecap="butt" />
<text x="1906.4" y="2687.7" font-size="60" fill="#1b1a17" stroke="#1b1a17" stroke-width="0.9" textLength="32.8" lengthAdjust="spacingAndGlyphs" >0</text>
<text x="2104.9" y="2687.7" font-size="60" fill="#1b1a17" stroke="#1b1a17" stroke-width="0.9" textLength="33.6" lengthAdjust="spacingAndGlyphs" >4</text>
<text x="2306.3" y="2687.7" font-size="60" fill="#1b1a17" stroke="#1b1a17" stroke-width="0.9" textLength="34.3" lengthAdjust="spacingAndGlyphs" >8</text>
<text x="1800.8" y="2574.4" font-size="60" fill="#1b1a17" stroke="#1b1a17" stroke-width="0.9" textLength="32.1" lengthAdjust="spacingAndGlyphs" >0</text>
<text x="1800.6" y="2376.4" font-size="60" fill="#1b1a17" stroke="#1b1a17" stroke-width="0.9" textLength="33.1" lengthAdjust="spacingAndGlyphs" >4</text>
<text x="1800.5" y="2176.6" font-size="60" fill="#1b1a17" stroke="#1b1a17" stroke-width="0.9" textLength="32.7" lengthAdjust="spacingAndGlyphs" >8</text>
<text x="1821.8" y="2746.8" font-size="59.17" fill="#1b1a17" stroke="#1b1a17" stroke-width="0.9" textLength="100.4" lengthAdjust="spacingAndGlyphs" >Log</text>
<text x="1919.5" y="2769.7" font-size="40" fill="#1b1a17" stroke="#1b1a17" stroke-width="0.9" textLength="22.6" lengthAdjust="spacingAndGlyphs" >2</text>
<text x="1953.3" y="2746.8" font-size="59.17" fill="#1b1a17" stroke="#1b1a17" stroke-width="0.9" textLength="541.4" lengthAdjust="spacingAndGlyphs" >Counts, Low reporter</text>
<text x="-2660.4" y="1755.1" font-size="59.17" fill="#1b1a17" stroke="#1b1a17" stroke-width="0.9" textLength="96.8" lengthAdjust="spacingAndGlyphs" transform="rotate(-90)" >Log</text>
<text x="-2562.1" y="1779.3" font-size="40" fill="#1b1a17" stroke="#1b1a17" stroke-width="0.9" textLength="20.9" lengthAdjust="spacingAndGlyphs" transform="rotate(-90)" >2</text>
<text x="-2528.5" y="1755.1" font-size="59.17" fill="#1b1a17" stroke="#1b1a17" stroke-width="0.9" textLength="559.6" lengthAdjust="spacingAndGlyphs" transform="rotate(-90)" >Counts, High reporter</text>
<text x="1896.6" y="2115.3" font-size="60" fill="#1b1a17" stroke="#1b1a17" stroke-width="0.9" textLength="159.6" lengthAdjust="spacingAndGlyphs" >P &lt; 10</text>
<text x="2055.8" y="2084.9" font-size="52.7" fill="#1b1a17" stroke="#1b1a17" stroke-width="0.9" textLength="83.1" lengthAdjust="spacingAndGlyphs" >−10</text>
<defs><linearGradient id="cb0" x1="0" y1="0" x2="0" y2="1"><stop offset="0" stop-color="#C3121A"/><stop offset="0.06" stop-color="#C71F26"/><stop offset="0.28" stop-color="#D97477"/><stop offset="0.41" stop-color="#EFC5C6"/><stop offset="0.5" stop-color="#FFFFFF"/><stop offset="0.6" stop-color="#D8D8EC"/><stop offset="0.72" stop-color="#9A9ACB"/><stop offset="0.87" stop-color="#5A63AA"/><stop offset="1" stop-color="#3B4796"/></linearGradient></defs>
<rect x="2522.9" y="2009.3" width="31" height="624" fill="url(#cb0)" stroke="#1b1a17" stroke-width="4.8"/>
<line x1="2546.0" y1="2047.1" x2="2553.9" y2="2047.1" stroke="#1b1a17" stroke-width="2.6" stroke-linecap="butt" />
<line x1="2546.0" y1="2115.1" x2="2553.9" y2="2115.1" stroke="#1b1a17" stroke-width="2.6" stroke-linecap="butt" />
<line x1="2546.0" y1="2183.9" x2="2553.9" y2="2183.9" stroke="#1b1a17" stroke-width="2.6" stroke-linecap="butt" />
<line x1="2546.0" y1="2252.2" x2="2553.9" y2="2252.2" stroke="#1b1a17" stroke-width="2.6" stroke-linecap="butt" />
<line x1="2546.0" y1="2320.3" x2="2553.9" y2="2320.3" stroke="#1b1a17" stroke-width="2.6" stroke-linecap="butt" />
<line x1="2546.0" y1="2389.0" x2="2553.9" y2="2389.0" stroke="#1b1a17" stroke-width="2.6" stroke-linecap="butt" />
<line x1="2546.0" y1="2457.0" x2="2553.9" y2="2457.0" stroke="#1b1a17" stroke-width="2.6" stroke-linecap="butt" />
<line x1="2546.0" y1="2525.7" x2="2553.9" y2="2525.7" stroke="#1b1a17" stroke-width="2.6" stroke-linecap="butt" />
<line x1="2546.0" y1="2594.1" x2="2553.9" y2="2594.1" stroke="#1b1a17" stroke-width="2.6" stroke-linecap="butt" />
<text x="2570.7" y="2069.5" font-size="60" fill="#1b1a17" stroke="#1b1a17" stroke-width="0.9" textLength="77.5" lengthAdjust="spacingAndGlyphs" >2.4</text>
<text x="2572.8" y="2205.2" font-size="60" fill="#1b1a17" stroke="#1b1a17" stroke-width="0.9" textLength="74.8" lengthAdjust="spacingAndGlyphs" >1.2</text>
<text x="2571.3" y="2339.9" font-size="60" fill="#1b1a17" stroke="#1b1a17" stroke-width="0.9" textLength="32.0" lengthAdjust="spacingAndGlyphs" >0</text>
<text x="2570.8" y="2476.6" font-size="60" fill="#1b1a17" stroke="#1b1a17" stroke-width="0.9" textLength="107.7" lengthAdjust="spacingAndGlyphs" >−1.2</text>
<text x="2570.8" y="2612.3" font-size="60" fill="#1b1a17" stroke="#1b1a17" stroke-width="0.9" textLength="108.4" lengthAdjust="spacingAndGlyphs" >−2.4</text>
<text x="2607.5" y="1997.3" font-size="55" text-anchor="middle" fill="#1b1a17" style="font-family:'Liberation Serif',serif">ε</text>
<circle cx="1834.4" cy="2848.8" r="7.3" fill="#DB8689" stroke="#1b1a17" stroke-width="2.3"/>
<circle cx="1819.8" cy="2877.6" r="7.3" fill="#C8141B" stroke="#1b1a17" stroke-width="2.3"/>
<circle cx="1850.7" cy="2877.6" r="7.3" fill="#F7E0E1" stroke="#1b1a17" stroke-width="2.3"/>
<circle cx="1834.4" cy="2916.7" r="8.2" fill="#D9D9D9" stroke="none" stroke-width="0"/>
<circle cx="1819.8" cy="2943.8" r="8.2" fill="#D9D9D9" stroke="none" stroke-width="0"/>
<circle cx="1850.7" cy="2943.8" r="8.2" fill="#D9D9D9" stroke="none" stroke-width="0"/>
<text x="1873.5" y="2886.2" font-size="58.68" fill="#1b1a17" stroke="#1b1a17" stroke-width="0.9" textLength="631.8" lengthAdjust="spacingAndGlyphs" >shRNAs targeting eIF2B4</text>
<text x="1870.4" y="2952.0" font-size="58.68" fill="#1b1a17" stroke="#1b1a17" stroke-width="0.9" textLength="641.9" lengthAdjust="spacingAndGlyphs" >Negative control shRNAs</text>
<polygon points="2253.2,3106.8 2269.2,3100.2 2283.0,3097.6 2294.4,3086.0 2311.4,3066.2 2317.0,3062.7 2337.7,3041.0 2354.0,3039.7 2370.5,3030.0 2384.7,3022.6 2398.9,3015.2 2410.8,3010.3 2429.8,3007.7 2446.5,3013.5 2451.1,3019.4 2446.3,3025.5 2434.3,3033.9 2431.7,3045.9 2428.0,3061.4 2425.3,3080.3 2415.6,3089.7 2409.4,3103.8 2417.7,3111.8 2420.0,3120.0 2397.1,3120.1 2382.8,3120.3 2375.4,3136.0 2370.9,3147.0 2361.8,3155.8 2385.8,3168.1 2397.7,3171.9 2386.0,3175.2 2351.3,3181.4 2328.5,3198.0 2307.2,3218.5 2291.9,3226.5 2276.5,3239.1 2270.2,3250.1 2251.7,3261.2 2242.4,3264.4 2236.3,3252.1 2223.9,3246.0 2230.2,3238.2 2242.7,3230.2 2236.7,3217.9 2230.7,3202.6 2238.7,3190.2 2235.7,3174.9 2239.0,3159.6 2251.6,3150.4 2265.4,3143.0 2265.5,3129.7 2259.4,3114.4" fill="#D9D9D9" stroke="none" stroke-width="0" stroke-linejoin="miter" stroke-linecap="butt" />
<g fill="#D9D9D9"><circle cx="2127.0" cy="3189.3" r="7.8"/><circle cx="2127.0" cy="3249.5" r="7.8"/><circle cx="2149.3" cy="3227.8" r="7.8"/><circle cx="2160.7" cy="3231.2" r="7.8"/><circle cx="2163.0" cy="3245.0" r="7.8"/><circle cx="2179.1" cy="3246.1" r="7.8"/><circle cx="2171.1" cy="3264.4" r="7.8"/><circle cx="2166.5" cy="3275.9" r="7.8"/><circle cx="2184.8" cy="3278.2" r="7.8"/><circle cx="2165.3" cy="3292.0" r="7.8"/><circle cx="2196.3" cy="3295.4" r="7.8"/><circle cx="2204.3" cy="3301.1" r="7.8"/><circle cx="2218.0" cy="3289.7" r="7.8"/><circle cx="2228.4" cy="3301.1" r="7.8"/><circle cx="2255.9" cy="3301.1" r="7.8"/><circle cx="2296.7" cy="3301.1" r="7.8"/><circle cx="2220.3" cy="3325.2" r="7.8"/><circle cx="2239.8" cy="3334.3" r="7.8"/><circle cx="2257.0" cy="3329.1" r="7.8"/><circle cx="2217.3" cy="3366.4" r="7.8"/><circle cx="2179.1" cy="3206.0" r="7.8"/><circle cx="2187.1" cy="3215.2" r="7.8"/><circle cx="2196.3" cy="3235.8" r="7.8"/><circle cx="2212.3" cy="3195.7" r="7.8"/><circle cx="2214.6" cy="3136.1" r="7.8"/><circle cx="2200.8" cy="3153.3" r="7.8"/><circle cx="2229.5" cy="3115.5" r="7.8"/><circle cx="2260.4" cy="3092.5" r="7.8"/><circle cx="2251.3" cy="3129.2" r="7.8"/><circle cx="2448.4" cy="3038.7" r="7.8"/><circle cx="2425.5" cy="3082.2" r="7.8"/><circle cx="2420.9" cy="3114.3" r="7.8"/><circle cx="2394.5" cy="3172.8" r="7.8"/><circle cx="2372.7" cy="3149.8" r="7.8"/><circle cx="2321.2" cy="3231.2" r="7.8"/><circle cx="2265.0" cy="3264.4" r="7.8"/><circle cx="2274.2" cy="3264.4" r="7.8"/><circle cx="1871.3" cy="3324.5" r="7.8"/><circle cx="2052.2" cy="3289.8" r="7.8"/><circle cx="2127.0" cy="3189.4" r="7.8"/><circle cx="2160.8" cy="3384.9" r="7.8"/><circle cx="2195.5" cy="3384.9" r="7.8"/><circle cx="2221.1" cy="3384.9" r="7.8"/><circle cx="2217.2" cy="3366.0" r="7.8"/><circle cx="2122.7" cy="3575.9" r="7.8"/><circle cx="2190.7" cy="3575.9" r="7.8"/><circle cx="2240.4" cy="3333.2" r="7.8"/><circle cx="2257.3" cy="3328.4" r="7.8"/><circle cx="2296.9" cy="3301.9" r="7.8"/><circle cx="2256.3" cy="3301.9" r="7.8"/><circle cx="2165.6" cy="3292.2" r="7.8"/><circle cx="2447.9" cy="3037.9" r="7.8"/><circle cx="2450.3" cy="3015.7" r="7.8"/><circle cx="2433.4" cy="3009.0" r="7.8"/><circle cx="2418.9" cy="3012.4" r="7.8"/><circle cx="2419.0" cy="3115.1" r="7.8"/><circle cx="2394.8" cy="3173.0" r="7.8"/><circle cx="2377.9" cy="3173.0" r="7.8"/><circle cx="2322.4" cy="3230.9" r="7.8"/><circle cx="2214.5" cy="3136.4" r="7.8"/><circle cx="2201.2" cy="3153.6" r="7.8"/><circle cx="2225.5" cy="3179.5" r="7.8"/><circle cx="2212.1" cy="3196.0" r="7.8"/><circle cx="2179.2" cy="3206.2" r="7.8"/><circle cx="2149.4" cy="3227.3" r="7.8"/><circle cx="2160.4" cy="3231.3" r="7.8"/><circle cx="2163.5" cy="3246.2" r="7.8"/><circle cx="2179.2" cy="3246.2" r="7.8"/><circle cx="2197.2" cy="3236.0" r="7.8"/><circle cx="2216.8" cy="3252.4" r="7.8"/><circle cx="2170.6" cy="3265.0" r="7.8"/><circle cx="2165.1" cy="3276.7" r="7.8"/><circle cx="2185.5" cy="3279.1" r="7.8"/><circle cx="2165.9" cy="3292.4" r="7.8"/><circle cx="2195.7" cy="3294.8" r="7.8"/><circle cx="2204.3" cy="3301.0" r="7.8"/><circle cx="2218.4" cy="3289.3" r="7.8"/><circle cx="2228.6" cy="3301.8" r="7.8"/><circle cx="2256.0" cy="3301.0" r="7.8"/><circle cx="2296.8" cy="3301.0" r="7.8"/><circle cx="2220.8" cy="3325.4" r="7.8"/><circle cx="2240.4" cy="3334.0" r="7.8"/><circle cx="2256.8" cy="3329.3" r="7.8"/><circle cx="2234.1" cy="3262.6" r="7.8"/><circle cx="2237.2" cy="3277.5" r="7.8"/><circle cx="2257.6" cy="3268.9" r="7.8"/><circle cx="2273.3" cy="3264.2" r="7.8"/><circle cx="2321.1" cy="3231.3" r="7.8"/><circle cx="2373.7" cy="3148.9" r="7.8"/><circle cx="2380.7" cy="3173.2" r="7.8"/><circle cx="2394.0" cy="3173.2" r="7.8"/><circle cx="2350.1" cy="3190.5" r="7.8"/><circle cx="2448.9" cy="3014.6" r="7.8"/><circle cx="2448.9" cy="3038.7" r="7.8"/><circle cx="2426.0" cy="3082.2" r="7.8"/><circle cx="2421.1" cy="3114.7" r="7.8"/><circle cx="2399.4" cy="3117.2" r="7.8"/><circle cx="2373.5" cy="3149.7" r="7.8"/><circle cx="2394.6" cy="3172.7" r="7.8"/><circle cx="2380.1" cy="3172.7" r="7.8"/><circle cx="2292.1" cy="3083.4" r="7.8"/><circle cx="2310.2" cy="3062.9" r="7.8"/><circle cx="2316.2" cy="3059.3" r="7.8"/><circle cx="2283.6" cy="3090.6" r="7.8"/><circle cx="2249.8" cy="3105.8" r="7.8"/><circle cx="2262.3" cy="3112.1" r="7.8"/><circle cx="2227.8" cy="3204.6" r="7.8"/><circle cx="2221.5" cy="3248.5" r="7.8"/><circle cx="2227.8" cy="3240.7" r="7.8"/><circle cx="2254.4" cy="3107.1" r="7.8"/><circle cx="2270.8" cy="3100.9" r="7.8"/><circle cx="2285.7" cy="3099.3" r="7.8"/><circle cx="2295.3" cy="3087.0" r="7.8"/><circle cx="2303.7" cy="3077.4" r="7.8"/><circle cx="2312.0" cy="3067.9" r="7.8"/><circle cx="2317.1" cy="3062.9" r="7.8"/><circle cx="2324.1" cy="3057.0" r="7.8"/><circle cx="2330.9" cy="3050.2" r="7.8"/><circle cx="2337.6" cy="3043.7" r="7.8"/><circle cx="2354.1" cy="3039.6" r="7.8"/><circle cx="2362.0" cy="3035.5" r="7.8"/><circle cx="2370.5" cy="3029.9" r="7.8"/><circle cx="2383.5" cy="3025.0" r="7.8"/><circle cx="2397.7" cy="3017.2" r="7.8"/><circle cx="2411.0" cy="3010.1" r="7.8"/><circle cx="2418.3" cy="3011.8" r="7.8"/><circle cx="2427.8" cy="3010.4" r="7.8"/><circle cx="2445.0" cy="3015.0" r="7.8"/><circle cx="2449.7" cy="3020.7" r="7.8"/><circle cx="2446.2" cy="3025.6" r="7.8"/><circle cx="2434.6" cy="3033.6" r="7.8"/><circle cx="2430.5" cy="3046.9" r="7.8"/><circle cx="2428.2" cy="3061.2" r="7.8"/><circle cx="2426.4" cy="3070.9" r="7.8"/><circle cx="2424.9" cy="3080.5" r="7.8"/><circle cx="2415.9" cy="3089.6" r="7.8"/><circle cx="2408.1" cy="3104.3" r="7.8"/><circle cx="2416.4" cy="3112.1" r="7.8"/><circle cx="2417.2" cy="3120.3" r="7.8"/><circle cx="2407.0" cy="3120.3" r="7.8"/><circle cx="2395.1" cy="3120.4" r="7.8"/><circle cx="2381.3" cy="3120.5" r="7.8"/><circle cx="2373.3" cy="3135.7" r="7.8"/><circle cx="2369.7" cy="3146.5" r="7.8"/><circle cx="2361.4" cy="3155.4" r="7.8"/><circle cx="2371.1" cy="3159.8" r="7.8"/><circle cx="2383.0" cy="3166.1" r="7.8"/><circle cx="2395.3" cy="3170.3" r="7.8"/><circle cx="2384.2" cy="3173.7" r="7.8"/><circle cx="2373.9" cy="3176.7" r="7.8"/><circle cx="2362.6" cy="3179.0" r="7.8"/><circle cx="2351.1" cy="3180.8" r="7.8"/><circle cx="2343.7" cy="3187.1" r="7.8"/><circle cx="2336.0" cy="3189.9" r="7.8"/><circle cx="2328.5" cy="3196.9" r="7.8"/><circle cx="2321.8" cy="3202.0" r="7.8"/><circle cx="2314.5" cy="3210.7" r="7.8"/><circle cx="2308.1" cy="3215.4" r="7.8"/><circle cx="2293.0" cy="3223.8" r="7.8"/><circle cx="2284.0" cy="3233.2" r="7.8"/><circle cx="2276.7" cy="3238.8" r="7.8"/><circle cx="2271.7" cy="3247.3" r="7.8"/><circle cx="2261.6" cy="3254.5" r="7.8"/><circle cx="2253.5" cy="3258.3" r="7.8"/><circle cx="2243.0" cy="3263.5" r="7.8"/><circle cx="2236.1" cy="3252.2" r="7.8"/><circle cx="2225.3" cy="3244.5" r="7.8"/><circle cx="2232.0" cy="3236.3" r="7.8"/><circle cx="2243.1" cy="3229.8" r="7.8"/><circle cx="2236.6" cy="3218.0" r="7.8"/><circle cx="2231.3" cy="3202.1" r="7.8"/><circle cx="2241.5" cy="3188.4" r="7.8"/><circle cx="2238.0" cy="3173.9" r="7.8"/><circle cx="2239.0" cy="3159.7" r="7.8"/><circle cx="2252.1" cy="3150.3" r="7.8"/><circle cx="2265.3" cy="3143.0" r="7.8"/><circle cx="2265.2" cy="3129.7" r="7.8"/><circle cx="2262.1" cy="3114.9" r="7.8"/></g>
<circle cx="2179.5" cy="3137.9" r="7.7" fill="#C8141B" stroke="#1b1a17" stroke-width="2.5"/>
<circle cx="2224.7" cy="3089.3" r="7.7" fill="#C8141B" stroke="#1b1a17" stroke-width="2.5"/>
<circle cx="2216.8" cy="3144.2" r="7.7" fill="#D45055" stroke="#1b1a17" stroke-width="2.5"/>
<circle cx="2240.4" cy="3136.4" r="7.7" fill="#D8686B" stroke="#1b1a17" stroke-width="2.5"/>
<circle cx="2246.2" cy="3132.6" r="7.7" fill="#D8696C" stroke="#1b1a17" stroke-width="2.5"/>
<circle cx="2264.7" cy="3086.2" r="7.7" fill="#D4464B" stroke="#1b1a17" stroke-width="2.5"/>
<circle cx="2275.2" cy="3097.6" r="7.7" fill="#D65A5E" stroke="#1b1a17" stroke-width="2.5"/>
<circle cx="2260.7" cy="3156.1" r="7.7" fill="#EEC2C4" stroke="#1b1a17" stroke-width="2.5"/>
<circle cx="2335.2" cy="3045.1" r="7.7" fill="#D97175" stroke="#1b1a17" stroke-width="2.5"/>
<circle cx="2339.2" cy="3053.7" r="7.7" fill="#E3979A" stroke="#1b1a17" stroke-width="2.5"/>
<circle cx="2315.2" cy="3078.8" r="7.7" fill="#E29B9D" stroke="#1b1a17" stroke-width="2.5"/>
<circle cx="2303.4" cy="3096.4" r="7.7" fill="#E6A5A7" stroke="#1b1a17" stroke-width="2.5"/>
<circle cx="2314.8" cy="3099.7" r="7.7" fill="#EEC5C6" stroke="#1b1a17" stroke-width="2.5"/>
<circle cx="2296.0" cy="3116.0" r="7.7" fill="#EBB6B8" stroke="#1b1a17" stroke-width="2.5"/>
<circle cx="2300.3" cy="3116.0" r="7.7" fill="#EFC7C8" stroke="#1b1a17" stroke-width="2.5"/>
<circle cx="2292.1" cy="3130.6" r="7.7" fill="#F0D0D1" stroke="#1b1a17" stroke-width="2.5"/>
<circle cx="2306.2" cy="3125.8" r="7.7" fill="#F5DDDE" stroke="#1b1a17" stroke-width="2.5"/>
<circle cx="2309.7" cy="3138.9" r="7.7" fill="#FAF6F6" stroke="#1b1a17" stroke-width="2.5"/>
<circle cx="2328.2" cy="3130.6" r="7.7" fill="#F5F5FA" stroke="#1b1a17" stroke-width="2.5"/>
<circle cx="2297.9" cy="3167.4" r="7.7" fill="#EEEEF8" stroke="#1b1a17" stroke-width="2.5"/>
<circle cx="2360.3" cy="3112.8" r="7.7" fill="#E3E3F3" stroke="#1b1a17" stroke-width="2.5"/>
<circle cx="2373.2" cy="3133.7" r="7.7" fill="#9696CC" stroke="#1b1a17" stroke-width="2.5"/>
<circle cx="2165.6" cy="3347.5" r="7.7" fill="#9595CB" stroke="#1b1a17" stroke-width="2.5"/>
<rect x="1842.6" y="2980.2" width="634.9" height="624.0" fill="none" stroke="#1b1a17" stroke-width="5"/>
<line x1="1922.0" y1="3604.2" x2="1922.0" y2="3596.2" stroke="#1b1a17" stroke-width="2.6" stroke-linecap="butt" />
<line x1="1922.0" y1="2980.2" x2="1922.0" y2="2988.2" stroke="#1b1a17" stroke-width="2.6" stroke-linecap="butt" />
<line x1="1842.6" y1="3525.8" x2="1850.6" y2="3525.8" stroke="#1b1a17" stroke-width="2.6" stroke-linecap="butt" />
<line x1="2477.5" y1="3525.8" x2="2469.5" y2="3525.8" stroke="#1b1a17" stroke-width="2.6" stroke-linecap="butt" />
<line x1="2022.4" y1="3604.2" x2="2022.4" y2="3596.2" stroke="#1b1a17" stroke-width="2.6" stroke-linecap="butt" />
<line x1="2022.4" y1="2980.2" x2="2022.4" y2="2988.2" stroke="#1b1a17" stroke-width="2.6" stroke-linecap="butt" />
<line x1="1842.6" y1="3425.3" x2="1850.6" y2="3425.3" stroke="#1b1a17" stroke-width="2.6" stroke-linecap="butt" />
<line x1="2477.5" y1="3425.3" x2="2469.5" y2="3425.3" stroke="#1b1a17" stroke-width="2.6" stroke-linecap="butt" />
<line x1="2122.8" y1="3604.2" x2="2122.8" y2="3596.2" stroke="#1b1a17" stroke-width="2.6" stroke-linecap="butt" />
<line x1="2122.8" y1="2980.2" x2="2122.8" y2="2988.2" stroke="#1b1a17" stroke-width="2.6" stroke-linecap="butt" />
<line x1="1842.6" y1="3324.8" x2="1850.6" y2="3324.8" stroke="#1b1a17" stroke-width="2.6" stroke-linecap="butt" />
<line x1="2477.5" y1="3324.8" x2="2469.5" y2="3324.8" stroke="#1b1a17" stroke-width="2.6" stroke-linecap="butt" />
<line x1="2223.2" y1="3604.2" x2="2223.2" y2="3596.2" stroke="#1b1a17" stroke-width="2.6" stroke-linecap="butt" />
<line x1="2223.2" y1="2980.2" x2="2223.2" y2="2988.2" stroke="#1b1a17" stroke-width="2.6" stroke-linecap="butt" />
<line x1="1842.6" y1="3224.3" x2="1850.6" y2="3224.3" stroke="#1b1a17" stroke-width="2.6" stroke-linecap="butt" />
<line x1="2477.5" y1="3224.3" x2="2469.5" y2="3224.3" stroke="#1b1a17" stroke-width="2.6" stroke-linecap="butt" />
<line x1="2323.6" y1="3604.2" x2="2323.6" y2="3596.2" stroke="#1b1a17" stroke-width="2.6" stroke-linecap="butt" />
<line x1="2323.6" y1="2980.2" x2="2323.6" y2="2988.2" stroke="#1b1a17" stroke-width="2.6" stroke-linecap="butt" />
<line x1="1842.6" y1="3123.8" x2="1850.6" y2="3123.8" stroke="#1b1a17" stroke-width="2.6" stroke-linecap="butt" />
<line x1="2477.5" y1="3123.8" x2="2469.5" y2="3123.8" stroke="#1b1a17" stroke-width="2.6" stroke-linecap="butt" />
<line x1="2424.0" y1="3604.2" x2="2424.0" y2="3596.2" stroke="#1b1a17" stroke-width="2.6" stroke-linecap="butt" />
<line x1="2424.0" y1="2980.2" x2="2424.0" y2="2988.2" stroke="#1b1a17" stroke-width="2.6" stroke-linecap="butt" />
<line x1="1842.6" y1="3023.3" x2="1850.6" y2="3023.3" stroke="#1b1a17" stroke-width="2.6" stroke-linecap="butt" />
<line x1="2477.5" y1="3023.3" x2="2469.5" y2="3023.3" stroke="#1b1a17" stroke-width="2.6" stroke-linecap="butt" />
<text x="1906.4" y="3659.4" font-size="60" fill="#1b1a17" stroke="#1b1a17" stroke-width="0.9" textLength="32.8" lengthAdjust="spacingAndGlyphs" >0</text>
<text x="2104.9" y="3659.4" font-size="60" fill="#1b1a17" stroke="#1b1a17" stroke-width="0.9" textLength="33.6" lengthAdjust="spacingAndGlyphs" >4</text>
<text x="2306.3" y="3659.4" font-size="60" fill="#1b1a17" stroke="#1b1a17" stroke-width="0.9" textLength="34.3" lengthAdjust="spacingAndGlyphs" >8</text>
<text x="1800.8" y="3546.1" font-size="60" fill="#1b1a17" stroke="#1b1a17" stroke-width="0.9" textLength="32.1" lengthAdjust="spacingAndGlyphs" >0</text>
<text x="1800.6" y="3348.1" font-size="60" fill="#1b1a17" stroke="#1b1a17" stroke-width="0.9" textLength="33.1" lengthAdjust="spacingAndGlyphs" >4</text>
<text x="1800.5" y="3148.3" font-size="60" fill="#1b1a17" stroke="#1b1a17" stroke-width="0.9" textLength="32.7" lengthAdjust="spacingAndGlyphs" >8</text>
<text x="1821.8" y="3718.5" font-size="59.17" fill="#1b1a17" stroke="#1b1a17" stroke-width="0.9" textLength="100.4" lengthAdjust="spacingAndGlyphs" >Log</text>
<text x="1919.5" y="3741.4" font-size="40" fill="#1b1a17" stroke="#1b1a17" stroke-width="0.9" textLength="22.6" lengthAdjust="spacingAndGlyphs" >2</text>
<text x="1953.3" y="3718.5" font-size="59.17" fill="#1b1a17" stroke="#1b1a17" stroke-width="0.9" textLength="541.4" lengthAdjust="spacingAndGlyphs" >Counts, Low reporter</text>
<text x="-3632.1" y="1755.1" font-size="59.17" fill="#1b1a17" stroke="#1b1a17" stroke-width="0.9" textLength="96.8" lengthAdjust="spacingAndGlyphs" transform="rotate(-90)" >Log</text>
<text x="-3533.8" y="1779.3" font-size="40" fill="#1b1a17" stroke="#1b1a17" stroke-width="0.9" textLength="20.9" lengthAdjust="spacingAndGlyphs" transform="rotate(-90)" >2</text>
<text x="-3500.2" y="1755.1" font-size="59.17" fill="#1b1a17" stroke="#1b1a17" stroke-width="0.9" textLength="559.6" lengthAdjust="spacingAndGlyphs" transform="rotate(-90)" >Counts, High reporter</text>
<text x="1910.1" y="3087.0" font-size="60" fill="#1b1a17" stroke="#1b1a17" stroke-width="0.9" textLength="160.4" lengthAdjust="spacingAndGlyphs" >P &lt; 10</text>
<text x="2069.4" y="3056.6" font-size="51.6" fill="#1b1a17" stroke="#1b1a17" stroke-width="0.9" textLength="53.3" lengthAdjust="spacingAndGlyphs" >−5</text>
<defs><linearGradient id="cb971" x1="0" y1="0" x2="0" y2="1"><stop offset="0" stop-color="#C3121A"/><stop offset="0.06" stop-color="#C71F26"/><stop offset="0.28" stop-color="#D97477"/><stop offset="0.41" stop-color="#EFC5C6"/><stop offset="0.5" stop-color="#FFFFFF"/><stop offset="0.6" stop-color="#D8D8EC"/><stop offset="0.72" stop-color="#9A9ACB"/><stop offset="0.87" stop-color="#5A63AA"/><stop offset="1" stop-color="#3B4796"/></linearGradient></defs>
<rect x="2522.9" y="2981.0" width="31" height="624" fill="url(#cb971)" stroke="#1b1a17" stroke-width="4.8"/>
<line x1="2546.0" y1="3018.8" x2="2553.9" y2="3018.8" stroke="#1b1a17" stroke-width="2.6" stroke-linecap="butt" />
<line x1="2546.0" y1="3086.8" x2="2553.9" y2="3086.8" stroke="#1b1a17" stroke-width="2.6" stroke-linecap="butt" />
<line x1="2546.0" y1="3155.6" x2="2553.9" y2="3155.6" stroke="#1b1a17" stroke-width="2.6" stroke-linecap="butt" />
<line x1="2546.0" y1="3223.9" x2="2553.9" y2="3223.9" stroke="#1b1a17" stroke-width="2.6" stroke-linecap="butt" />
<line x1="2546.0" y1="3292.0" x2="2553.9" y2="3292.0" stroke="#1b1a17" stroke-width="2.6" stroke-linecap="butt" />
<line x1="2546.0" y1="3360.7" x2="2553.9" y2="3360.7" stroke="#1b1a17" stroke-width="2.6" stroke-linecap="butt" />
<line x1="2546.0" y1="3428.7" x2="2553.9" y2="3428.7" stroke="#1b1a17" stroke-width="2.6" stroke-linecap="butt" />
<line x1="2546.0" y1="3497.4" x2="2553.9" y2="3497.4" stroke="#1b1a17" stroke-width="2.6" stroke-linecap="butt" />
<line x1="2546.0" y1="3565.8" x2="2553.9" y2="3565.8" stroke="#1b1a17" stroke-width="2.6" stroke-linecap="butt" />
<text x="2570.7" y="3041.2" font-size="60" fill="#1b1a17" stroke="#1b1a17" stroke-width="0.9" textLength="77.5" lengthAdjust="spacingAndGlyphs" >2.4</text>
<text x="2572.8" y="3176.9" font-size="60" fill="#1b1a17" stroke="#1b1a17" stroke-width="0.9" textLength="74.8" lengthAdjust="spacingAndGlyphs" >1.2</text>
<text x="2571.3" y="3311.6" font-size="60" fill="#1b1a17" stroke="#1b1a17" stroke-width="0.9" textLength="32.0" lengthAdjust="spacingAndGlyphs" >0</text>
<text x="2570.8" y="3448.3" font-size="60" fill="#1b1a17" stroke="#1b1a17" stroke-width="0.9" textLength="107.7" lengthAdjust="spacingAndGlyphs" >−1.2</text>
<text x="2570.8" y="3584.0" font-size="60" fill="#1b1a17" stroke="#1b1a17" stroke-width="0.9" textLength="108.4" lengthAdjust="spacingAndGlyphs" >−2.4</text>
<text x="2607.5" y="2969.0" font-size="55" text-anchor="middle" fill="#1b1a17" style="font-family:'Liberation Serif',serif">ε</text>
</svg>
</body></html>
